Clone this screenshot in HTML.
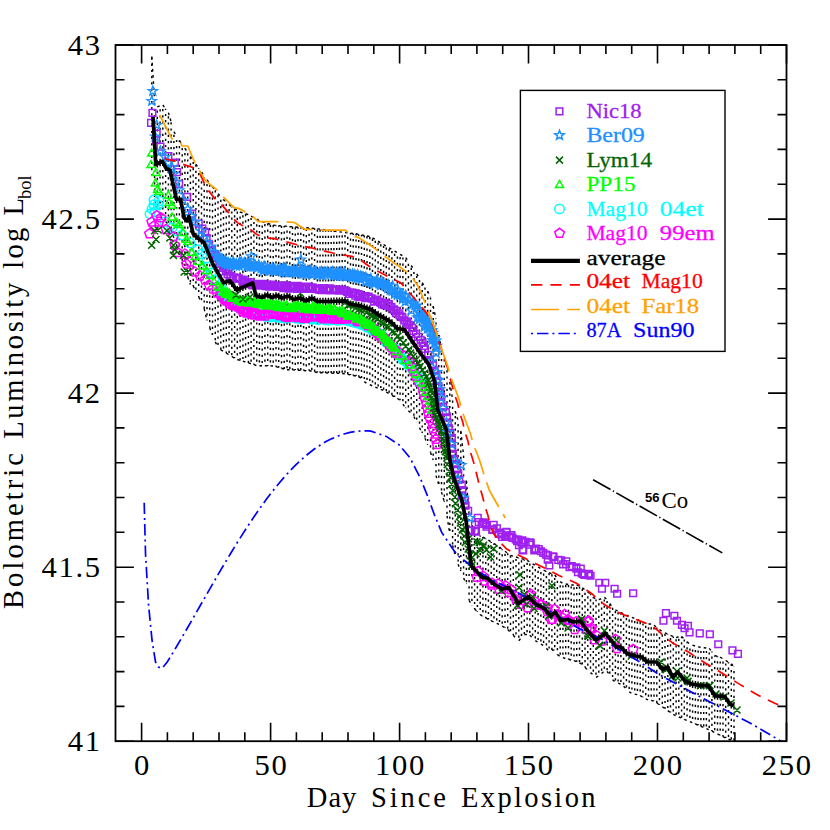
<!DOCTYPE html>
<html><head><meta charset="utf-8"><title>Bolometric Luminosity</title>
<style>html,body{margin:0;padding:0;background:#fff;}svg{display:block;}</style>
</head><body>
<svg width="830" height="830" viewBox="0 0 830 830">
<rect width="830" height="830" fill="#fff"/>
<defs><clipPath id="c"><rect x="115.5" y="45.0" width="671.0" height="696.2"/></clipPath></defs>
<g clip-path="url(#c)">
<path d="M151.8 117.0V56.5M151.8 117.0V175.0M154.6 143.6V100.2M154.6 143.6V200.2M157.3 163.9V106.9M157.3 163.9V208.2M160.1 162.5V105.6M160.1 162.5V216.1M162.8 162.3V105.0M162.8 162.3V218.8M165.6 167.2V108.8M165.6 167.2V221.6M168.4 169.5V112.6M168.4 169.5V224.4M171.1 175.5V121.8M171.1 175.5V229.5M173.9 188.0V131.6M173.9 188.0V238.0M176.6 199.4V136.0M176.6 199.4V246.6M179.4 199.4V140.5M179.4 199.4V255.1M182.2 207.5V144.6M182.2 207.5V262.6M184.9 218.8V148.4M184.9 218.8V269.9M187.7 218.9V152.3M187.7 218.9V277.1M190.4 222.7V156.3M190.4 222.7V284.4M193.2 233.8V160.4M193.2 233.8V285.9M195.9 236.4V164.3M195.9 236.4V291.4M198.7 238.8V168.2M198.7 238.8V297.0M201.5 240.7V172.1M201.5 240.7V302.5M204.2 243.1V175.9M204.2 243.1V308.7M207.0 249.8V179.8M207.0 249.8V320.6M209.7 256.5V183.4M209.7 256.5V327.7M212.5 263.3V186.8M212.5 263.3V334.8M215.3 268.3V190.2M215.3 268.3V341.9M218.0 273.1V193.6M218.0 273.1V347.4M220.8 277.9V196.8M220.8 277.9V349.7M223.5 282.7V199.4M223.5 282.7V351.6M226.3 281.9V202.1M226.3 281.9V353.2M229.1 281.0V204.7M229.1 281.0V354.8M231.8 283.3V206.8M231.8 283.3V356.5M234.6 287.2V208.6M234.6 287.2V358.3M237.3 289.7V210.3M237.3 289.7V359.5M240.1 288.5V212.0M240.1 288.5V360.4M242.9 287.2V212.9M242.9 287.2V361.2M245.6 286.0V213.7M245.6 286.0V362.1M248.4 284.8V214.8M248.4 284.8V362.9M251.1 283.6V216.2M251.1 283.6V363.8M253.9 287.6V217.7M253.9 287.6V364.7M256.7 296.1V219.2M256.7 296.1V365.6M259.4 296.8V220.7M259.4 296.8V365.7M262.2 297.4V221.7M262.2 297.4V365.8M264.9 296.0V222.5M264.9 296.0V365.8M267.7 295.3V223.4M267.7 295.3V365.9M270.4 296.7V224.3M270.4 296.7V365.9M273.2 297.0V225.1M273.2 297.0V366.0M276.0 295.9V225.4M276.0 295.9V366.7M278.7 296.4V225.6M278.7 296.4V367.5M281.5 297.7V225.9M281.5 297.7V368.3M284.2 297.3V226.1M284.2 297.3V369.1M287.0 296.3V226.3M287.0 296.3V369.7M289.8 297.0V226.6M289.8 297.0V369.8M292.5 298.6V226.8M292.5 298.6V369.9M295.3 299.2V227.0M295.3 299.2V370.1M298.0 298.5V227.2M298.0 298.5V370.2M300.8 298.4V227.4M300.8 298.4V370.4M303.6 299.8V227.6M303.6 299.8V370.5M306.3 300.8V227.8M306.3 300.8V370.7M309.1 299.5V228.0M309.1 299.5V370.8M311.8 298.1V228.2M311.8 298.1V371.0M314.6 299.8V228.4M314.6 299.8V371.8M317.4 301.5V228.7M317.4 301.5V372.6M320.1 301.5V229.1M320.1 301.5V372.7M322.9 301.5V229.5M322.9 301.5V372.8M325.6 301.5V229.9M325.6 301.5V372.9M328.4 301.5V230.3M328.4 301.5V373.0M331.2 301.4V230.7M331.2 301.4V373.1M333.9 301.3V231.1M333.9 301.3V373.2M336.7 301.2V231.5M336.7 301.2V373.3M339.4 301.1V231.9M339.4 301.1V373.4M342.2 300.9V232.2M342.2 300.9V373.5M345.0 300.8V232.5M345.0 300.8V373.7M347.7 302.4V232.8M347.7 302.4V374.3M350.5 304.2V233.1M350.5 304.2V374.9M353.2 304.7V233.4M353.2 304.7V375.5M356.0 305.1V233.8M356.0 305.1V376.1M358.7 305.6V234.4M358.7 305.6V376.7M361.5 306.2V234.9M361.5 306.2V378.6M364.3 307.2V235.5M364.3 307.2V381.6M367.0 308.1V236.0M367.0 308.1V383.5M369.8 309.0V236.5M369.8 309.0V384.7M372.5 310.7V237.9M372.5 310.7V385.9M375.3 312.6V239.5M375.3 312.6V387.1M378.1 314.5V241.2M378.1 314.5V388.2M380.8 316.2V242.9M380.8 316.2V389.4M383.6 317.8V244.5M383.6 317.8V390.6M386.3 319.4V246.2M386.3 319.4V392.1M389.1 320.9V247.8M389.1 320.9V393.7M391.9 323.0V249.5M391.9 323.0V395.3M394.6 325.7V251.1M394.6 325.7V396.9M397.4 328.5V252.7M397.4 328.5V398.5M400.1 329.0V254.3M400.1 329.0V400.2M402.9 329.3V256.0M402.9 329.3V404.2M405.7 331.5V257.6M405.7 331.5V408.2M408.4 335.6V261.4M408.4 335.6V410.9M411.2 339.7V265.5M411.2 339.7V413.1M413.9 343.8V269.7M413.9 343.8V416.5M416.7 347.8V273.9M416.7 347.8V422.3M419.5 351.9V278.2M419.5 351.9V427.9M422.2 355.7V282.6M422.2 355.7V433.0M425.0 359.4V286.9M425.0 359.4V438.2M427.7 363.0V291.2M427.7 363.0V444.8M430.5 369.3V297.0M430.5 369.3V452.6M433.2 377.6V306.2M433.2 377.6V459.9M436.0 394.3V319.0M436.0 394.3V475.6M438.8 412.1V335.0M438.8 412.1V484.8M441.5 418.5V348.4M441.5 418.5V492.1M444.3 424.9V357.6M444.3 424.9V501.8M447.0 435.9V366.8M447.0 435.9V515.9M449.8 459.2V382.1M449.8 459.2V534.2M452.6 472.5V399.2M452.6 472.5V545.4M455.3 481.8V411.2M455.3 481.8V555.9M458.1 489.7V420.7M458.1 489.7V564.2M460.8 497.6V430.9M460.8 497.6V571.1M463.6 509.0V455.7M463.6 509.0V578.0M466.4 522.8V480.5M466.4 522.8V584.0M469.1 547.6V515.0M469.1 547.6V600.3M471.9 566.3V525.3M471.9 566.3V605.2M474.6 569.4V529.4M474.6 569.4V608.9M477.4 572.4V533.4M477.4 572.4V611.8M480.2 575.4V535.4M480.2 575.4V614.6M482.9 577.5V537.0M482.9 577.5V616.4M485.7 578.0V538.6M485.7 578.0V617.9M488.4 579.4V540.2M488.4 579.4V619.4M491.2 581.6V541.9M491.2 581.6V620.9M494.0 583.8V543.5M494.0 583.8V622.1M496.7 585.8V545.1M496.7 585.8V623.3M499.5 587.4V547.1M499.5 587.4V624.5M502.2 589.0V549.2M502.2 589.0V626.1M505.0 588.4V551.2M505.0 588.4V627.8M507.7 587.8V553.3M507.7 587.8V629.6M510.5 590.3V555.3M510.5 590.3V632.3M513.3 595.0V556.2M513.3 595.0V635.2M516.0 599.8V557.0M516.0 599.8V638.4M518.8 603.1V557.9M518.8 603.1V640.8M521.5 601.2V558.7M521.5 601.2V637.6M524.3 599.4V559.5M524.3 599.4V634.5M527.1 597.5V560.4M527.1 597.5V634.5M529.8 598.2V562.0M529.8 598.2V635.3M532.6 601.0V563.8M532.6 601.0V638.0M535.3 603.7V565.4M535.3 603.7V640.6M538.1 605.4V567.0M538.1 605.4V642.4M540.9 606.8V568.6M540.9 606.8V644.2M543.6 608.2V570.2M543.6 608.2V645.6M546.4 610.8V571.5M546.4 610.8V648.3M549.1 613.9V572.6M549.1 613.9V651.6M551.9 615.2V573.7M551.9 615.2V650.2M554.7 612.6V575.0M554.7 612.6V649.9M557.4 615.5V578.4M557.4 615.5V654.7M560.2 620.0V581.7M560.2 620.0V656.5M562.9 620.1V583.4M562.9 620.1V657.6M565.7 619.8V584.0M565.7 619.8V658.6M568.5 619.7V584.6M568.5 619.7V659.3M571.2 621.1V585.0M571.2 621.1V660.0M574.0 621.9V585.0M574.0 621.9V660.7M576.7 621.6V585.0M576.7 621.6V661.8M579.5 621.3V586.0M579.5 621.3V662.8M582.3 623.6V587.9M582.3 623.6V664.6M585.0 627.5V589.8M585.0 627.5V667.3M587.8 631.0V591.9M587.8 631.0V670.1M590.5 634.0V594.2M590.5 634.0V672.6M593.3 637.0V596.9M593.3 637.0V675.0M596.0 640.0V599.6M596.0 640.0V677.4M598.8 638.0V599.7M598.8 638.0V675.9M601.6 636.1V598.6M601.6 636.1V673.6M604.3 634.1V597.4M604.3 634.1V671.1M607.1 635.6V599.5M607.1 635.6V671.3M609.8 639.0V603.5M609.8 639.0V675.5M612.6 642.4V607.4M612.6 642.4V679.7M615.4 645.7V609.8M615.4 645.7V682.1M618.1 646.9V611.2M618.1 646.9V683.2M620.9 647.3V612.5M620.9 647.3V684.3M623.6 650.0V613.9M623.6 650.0V686.2M626.4 652.8V615.1M626.4 652.8V689.0M629.2 654.2V616.2M629.2 654.2V691.8M631.9 654.9V617.4M631.9 654.9V693.5M634.7 655.7V618.6M634.7 655.7V694.1M637.4 656.3V619.7M637.4 656.3V694.7M640.2 656.8V620.9M640.2 656.8V695.7M643.0 658.1V622.1M643.0 658.1V697.3M645.7 660.5V623.2M645.7 660.5V698.9M648.5 662.0V624.0M648.5 662.0V700.1M651.2 662.0V624.0M651.2 662.0V700.3M654.0 662.0V625.2M654.0 662.0V701.1M656.8 662.1V627.4M656.8 662.1V703.0M659.5 665.6V629.6M659.5 665.6V704.9M662.3 669.2V631.4M662.3 669.2V706.8M665.0 668.4V632.8M665.0 668.4V708.7M667.8 667.2V634.2M667.8 667.2V710.6M670.5 672.7V635.4M670.5 672.7V712.5M673.3 676.7V636.5M673.3 676.7V714.4M676.1 673.9V637.6M676.1 673.9V715.8M678.8 673.5V636.7M678.8 673.5V717.0M681.6 676.9V636.4M681.6 676.9V718.1M684.3 680.3V639.1M684.3 680.3V719.3M687.1 681.9V641.8M687.1 681.9V720.5M689.9 683.3V644.4M689.9 683.3V721.7M692.6 684.2V645.2M692.6 684.2V722.8M695.4 684.7V646.1M695.4 684.7V724.0M698.1 685.2V646.9M698.1 685.2V725.2M700.9 685.6V647.3M700.9 685.6V726.4M703.7 685.6V647.7M703.7 685.6V727.5M706.4 685.6V648.0M706.4 685.6V728.7M709.2 687.1V648.4M709.2 687.1V729.9M711.9 691.3V651.5M711.9 691.3V731.1M714.7 695.5V655.6M714.7 695.5V732.5M717.5 696.0V656.3M717.5 696.0V733.9M720.2 696.1V657.2M720.2 696.1V735.3M723.0 696.3V658.8M723.0 696.3V736.7M725.7 698.1V660.5M725.7 698.1V738.1M728.5 702.2V662.2M728.5 702.2V739.2M731.3 704.8V663.8M731.3 704.8V739.9M734.0 705.7V666.7M734.0 705.7V740.7" stroke="#000" stroke-width="1.45" stroke-dasharray="2.2 4" stroke-dashoffset="-1.5" fill="none"/>
<path d="M151.8 56.5L154.6 100.2M154.6 200.2L157.3 208.2M157.3 106.9L160.1 105.6M160.1 216.1L162.8 218.8M162.8 105.0L165.6 108.8M165.6 221.6L168.4 224.4M168.4 112.6L171.1 121.8M171.1 229.5L173.9 238.0M173.9 131.6L176.6 136.0M176.6 246.6L179.4 255.1M179.4 140.5L182.2 144.6M182.2 262.6L184.9 269.9M184.9 148.4L187.7 152.3M187.7 277.1L190.4 284.4M190.4 156.3L193.2 160.4M193.2 285.9L195.9 291.4M195.9 164.3L198.7 168.2M198.7 297.0L201.5 302.5M201.5 172.1L204.2 175.9M204.2 308.7L207.0 320.6M207.0 179.8L209.7 183.4M209.7 327.7L212.5 334.8M212.5 186.8L215.3 190.2M215.3 341.9L218.0 347.4M218.0 193.6L220.8 196.8M220.8 349.7L223.5 351.6M223.5 199.4L226.3 202.1M226.3 353.2L229.1 354.8M229.1 204.7L231.8 206.8M231.8 356.5L234.6 358.3M234.6 208.6L237.3 210.3M237.3 359.5L240.1 360.4M240.1 212.0L242.9 212.9M242.9 361.2L245.6 362.1M245.6 213.7L248.4 214.8M248.4 362.9L251.1 363.8M251.1 216.2L253.9 217.7M253.9 364.7L256.7 365.6M256.7 219.2L259.4 220.7M259.4 365.7L262.2 365.8M262.2 221.7L264.9 222.5M264.9 365.8L267.7 365.9M267.7 223.4L270.4 224.3M270.4 365.9L273.2 366.0M273.2 225.1L276.0 225.4M276.0 366.7L278.7 367.5M278.7 225.6L281.5 225.9M281.5 368.3L284.2 369.1M284.2 226.1L287.0 226.3M287.0 369.7L289.8 369.8M289.8 226.6L292.5 226.8M292.5 369.9L295.3 370.1M295.3 227.0L298.0 227.2M298.0 370.2L300.8 370.4M300.8 227.4L303.6 227.6M303.6 370.5L306.3 370.7M306.3 227.8L309.1 228.0M309.1 370.8L311.8 371.0M311.8 228.2L314.6 228.4M314.6 371.8L317.4 372.6M317.4 228.7L320.1 229.1M320.1 372.7L322.9 372.8M322.9 229.5L325.6 229.9M325.6 372.9L328.4 373.0M328.4 230.3L331.2 230.7M331.2 373.1L333.9 373.2M333.9 231.1L336.7 231.5M336.7 373.3L339.4 373.4M339.4 231.9L342.2 232.2M342.2 373.5L345.0 373.7M345.0 232.5L347.7 232.8M347.7 374.3L350.5 374.9M350.5 233.1L353.2 233.4M353.2 375.5L356.0 376.1M356.0 233.8L358.7 234.4M358.7 376.7L361.5 378.6M361.5 234.9L364.3 235.5M364.3 381.6L367.0 383.5M367.0 236.0L369.8 236.5M369.8 384.7L372.5 385.9M372.5 237.9L375.3 239.5M375.3 387.1L378.1 388.2M378.1 241.2L380.8 242.9M380.8 389.4L383.6 390.6M383.6 244.5L386.3 246.2M386.3 392.1L389.1 393.7M389.1 247.8L391.9 249.5M391.9 395.3L394.6 396.9M394.6 251.1L397.4 252.7M397.4 398.5L400.1 400.2M400.1 254.3L402.9 256.0M402.9 404.2L405.7 408.2M405.7 257.6L408.4 261.4M408.4 410.9L411.2 413.1M411.2 265.5L413.9 269.7M413.9 416.5L416.7 422.3M416.7 273.9L419.5 278.2M419.5 427.9L422.2 433.0M422.2 282.6L425.0 286.9M425.0 438.2L427.7 444.8M427.7 291.2L430.5 297.0M430.5 452.6L433.2 459.9M433.2 306.2L436.0 319.0M436.0 475.6L438.8 484.8M438.8 335.0L441.5 348.4M441.5 492.1L444.3 501.8M444.3 357.6L447.0 366.8M447.0 515.9L449.8 534.2M449.8 382.1L452.6 399.2M452.6 545.4L455.3 555.9M455.3 411.2L458.1 420.7M458.1 564.2L460.8 571.1M460.8 430.9L463.6 455.7M463.6 578.0L466.4 584.0M466.4 480.5L469.1 515.0M469.1 600.3L471.9 605.2M471.9 525.3L474.6 529.4M474.6 608.9L477.4 611.8M477.4 533.4L480.2 535.4M480.2 614.6L482.9 616.4M482.9 537.0L485.7 538.6M485.7 617.9L488.4 619.4M488.4 540.2L491.2 541.9M491.2 620.9L494.0 622.1M494.0 543.5L496.7 545.1M496.7 623.3L499.5 624.5M499.5 547.1L502.2 549.2M502.2 626.1L505.0 627.8M505.0 551.2L507.7 553.3M507.7 629.6L510.5 632.3M510.5 555.3L513.3 556.2M513.3 635.2L516.0 638.4M516.0 557.0L518.8 557.9M518.8 640.8L521.5 637.6M521.5 558.7L524.3 559.5M524.3 634.5L527.1 634.5M527.1 560.4L529.8 562.0M529.8 635.3L532.6 638.0M532.6 563.8L535.3 565.4M535.3 640.6L538.1 642.4M538.1 567.0L540.9 568.6M540.9 644.2L543.6 645.6M543.6 570.2L546.4 571.5M546.4 648.3L549.1 651.6M549.1 572.6L551.9 573.7M551.9 650.2L554.7 649.9M554.7 575.0L557.4 578.4M557.4 654.7L560.2 656.5M560.2 581.7L562.9 583.4M562.9 657.6L565.7 658.6M565.7 584.0L568.5 584.6M568.5 659.3L571.2 660.0M571.2 585.0L574.0 585.0M574.0 660.7L576.7 661.8M576.7 585.0L579.5 586.0M579.5 662.8L582.3 664.6M582.3 587.9L585.0 589.8M585.0 667.3L587.8 670.1M587.8 591.9L590.5 594.2M590.5 672.6L593.3 675.0M593.3 596.9L596.0 599.6M596.0 677.4L598.8 675.9M598.8 599.7L601.6 598.6M601.6 673.6L604.3 671.1M604.3 597.4L607.1 599.5M607.1 671.3L609.8 675.5M609.8 603.5L612.6 607.4M612.6 679.7L615.4 682.1M615.4 609.8L618.1 611.2M618.1 683.2L620.9 684.3M620.9 612.5L623.6 613.9M623.6 686.2L626.4 689.0M626.4 615.1L629.2 616.2M629.2 691.8L631.9 693.5M631.9 617.4L634.7 618.6M634.7 694.1L637.4 694.7M637.4 619.7L640.2 620.9M640.2 695.7L643.0 697.3M643.0 622.1L645.7 623.2M645.7 698.9L648.5 700.1M648.5 624.0L651.2 624.0M651.2 700.3L654.0 701.1M654.0 625.2L656.8 627.4M656.8 703.0L659.5 704.9M659.5 629.6L662.3 631.4M662.3 706.8L665.0 708.7M665.0 632.8L667.8 634.2M667.8 710.6L670.5 712.5M670.5 635.4L673.3 636.5M673.3 714.4L676.1 715.8M676.1 637.6L678.8 636.7M678.8 717.0L681.6 718.1M681.6 636.4L684.3 639.1M684.3 719.3L687.1 720.5M687.1 641.8L689.9 644.4M689.9 721.7L692.6 722.8M692.6 645.2L695.4 646.1M695.4 724.0L698.1 725.2M698.1 646.9L700.9 647.3M700.9 726.4L703.7 727.5M703.7 647.7L706.4 648.0M706.4 728.7L709.2 729.9M709.2 648.4L711.9 651.5M711.9 731.1L714.7 732.5M714.7 655.6L717.5 656.3M717.5 733.9L720.2 735.3M720.2 657.2L723.0 658.8M723.0 736.7L725.7 738.1M725.7 660.5L728.5 662.2M728.5 739.2L731.3 739.9M731.3 663.8L734.0 666.7" stroke="#000" stroke-width="1.4" stroke-dasharray="2.6 3.6" fill="none"/>
<path d="M149.2 199.8a4.7 4.7 0 1 0 9.4 0a4.7 4.7 0 1 0 -9.4 0zM154.3 201.0a4.7 4.7 0 1 0 9.4 0a4.7 4.7 0 1 0 -9.4 0zM149.2 204.8a4.7 4.7 0 1 0 9.4 0a4.7 4.7 0 1 0 -9.4 0zM153.3 204.8a4.7 4.7 0 1 0 9.4 0a4.7 4.7 0 1 0 -9.4 0zM145.3 214.0a4.7 4.7 0 1 0 9.4 0a4.7 4.7 0 1 0 -9.4 0zM147.3 209.0a4.7 4.7 0 1 0 9.4 0a4.7 4.7 0 1 0 -9.4 0zM150.3 212.0a4.7 4.7 0 1 0 9.4 0a4.7 4.7 0 1 0 -9.4 0zM160.3 222.0a4.7 4.7 0 1 0 9.4 0a4.7 4.7 0 1 0 -9.4 0zM167.3 228.0a4.7 4.7 0 1 0 9.4 0a4.7 4.7 0 1 0 -9.4 0zM172.3 231.0a4.7 4.7 0 1 0 9.4 0a4.7 4.7 0 1 0 -9.4 0zM177.3 235.0a4.7 4.7 0 1 0 9.4 0a4.7 4.7 0 1 0 -9.4 0zM185.3 243.0a4.7 4.7 0 1 0 9.4 0a4.7 4.7 0 1 0 -9.4 0zM193.3 249.6a4.7 4.7 0 1 0 9.4 0a4.7 4.7 0 1 0 -9.4 0zM197.3 254.0a4.7 4.7 0 1 0 9.4 0a4.7 4.7 0 1 0 -9.4 0zM201.9 258.0a4.7 4.7 0 1 0 9.4 0a4.7 4.7 0 1 0 -9.4 0zM203.3 267.0a4.7 4.7 0 1 0 9.4 0a4.7 4.7 0 1 0 -9.4 0zM206.3 273.0a4.7 4.7 0 1 0 9.4 0a4.7 4.7 0 1 0 -9.4 0zM209.3 280.0a4.7 4.7 0 1 0 9.4 0a4.7 4.7 0 1 0 -9.4 0zM213.3 287.0a4.7 4.7 0 1 0 9.4 0a4.7 4.7 0 1 0 -9.4 0zM216.1 287.2a4.7 4.7 0 1 0 9.4 0a4.7 4.7 0 1 0 -9.4 0zM216.5 287.0a4.7 4.7 0 1 0 9.4 0a4.7 4.7 0 1 0 -9.4 0zM219.1 292.5a4.7 4.7 0 1 0 9.4 0a4.7 4.7 0 1 0 -9.4 0zM218.5 292.9a4.7 4.7 0 1 0 9.4 0a4.7 4.7 0 1 0 -9.4 0zM221.3 296.1a4.7 4.7 0 1 0 9.4 0a4.7 4.7 0 1 0 -9.4 0zM221.3 295.2a4.7 4.7 0 1 0 9.4 0a4.7 4.7 0 1 0 -9.4 0zM224.5 299.6a4.7 4.7 0 1 0 9.4 0a4.7 4.7 0 1 0 -9.4 0zM224.1 297.9a4.7 4.7 0 1 0 9.4 0a4.7 4.7 0 1 0 -9.4 0zM227.5 302.4a4.7 4.7 0 1 0 9.4 0a4.7 4.7 0 1 0 -9.4 0zM227.4 300.8a4.7 4.7 0 1 0 9.4 0a4.7 4.7 0 1 0 -9.4 0zM230.7 302.2a4.7 4.7 0 1 0 9.4 0a4.7 4.7 0 1 0 -9.4 0zM230.5 302.9a4.7 4.7 0 1 0 9.4 0a4.7 4.7 0 1 0 -9.4 0zM232.4 304.8a4.7 4.7 0 1 0 9.4 0a4.7 4.7 0 1 0 -9.4 0zM232.6 306.8a4.7 4.7 0 1 0 9.4 0a4.7 4.7 0 1 0 -9.4 0zM235.2 308.4a4.7 4.7 0 1 0 9.4 0a4.7 4.7 0 1 0 -9.4 0zM235.8 307.8a4.7 4.7 0 1 0 9.4 0a4.7 4.7 0 1 0 -9.4 0zM238.4 308.0a4.7 4.7 0 1 0 9.4 0a4.7 4.7 0 1 0 -9.4 0zM237.8 308.4a4.7 4.7 0 1 0 9.4 0a4.7 4.7 0 1 0 -9.4 0zM241.4 310.1a4.7 4.7 0 1 0 9.4 0a4.7 4.7 0 1 0 -9.4 0zM240.9 310.6a4.7 4.7 0 1 0 9.4 0a4.7 4.7 0 1 0 -9.4 0zM243.8 310.9a4.7 4.7 0 1 0 9.4 0a4.7 4.7 0 1 0 -9.4 0zM244.2 312.0a4.7 4.7 0 1 0 9.4 0a4.7 4.7 0 1 0 -9.4 0zM246.3 312.7a4.7 4.7 0 1 0 9.4 0a4.7 4.7 0 1 0 -9.4 0zM246.7 313.6a4.7 4.7 0 1 0 9.4 0a4.7 4.7 0 1 0 -9.4 0zM249.7 313.1a4.7 4.7 0 1 0 9.4 0a4.7 4.7 0 1 0 -9.4 0zM250.0 312.6a4.7 4.7 0 1 0 9.4 0a4.7 4.7 0 1 0 -9.4 0zM252.1 314.9a4.7 4.7 0 1 0 9.4 0a4.7 4.7 0 1 0 -9.4 0zM251.8 314.2a4.7 4.7 0 1 0 9.4 0a4.7 4.7 0 1 0 -9.4 0zM254.4 315.0a4.7 4.7 0 1 0 9.4 0a4.7 4.7 0 1 0 -9.4 0zM255.2 314.8a4.7 4.7 0 1 0 9.4 0a4.7 4.7 0 1 0 -9.4 0zM258.1 314.4a4.7 4.7 0 1 0 9.4 0a4.7 4.7 0 1 0 -9.4 0zM257.9 315.2a4.7 4.7 0 1 0 9.4 0a4.7 4.7 0 1 0 -9.4 0zM260.5 315.1a4.7 4.7 0 1 0 9.4 0a4.7 4.7 0 1 0 -9.4 0zM260.9 316.5a4.7 4.7 0 1 0 9.4 0a4.7 4.7 0 1 0 -9.4 0zM263.2 316.0a4.7 4.7 0 1 0 9.4 0a4.7 4.7 0 1 0 -9.4 0zM262.7 316.1a4.7 4.7 0 1 0 9.4 0a4.7 4.7 0 1 0 -9.4 0zM266.1 317.1a4.7 4.7 0 1 0 9.4 0a4.7 4.7 0 1 0 -9.4 0zM266.4 315.1a4.7 4.7 0 1 0 9.4 0a4.7 4.7 0 1 0 -9.4 0zM268.6 316.4a4.7 4.7 0 1 0 9.4 0a4.7 4.7 0 1 0 -9.4 0zM268.2 315.8a4.7 4.7 0 1 0 9.4 0a4.7 4.7 0 1 0 -9.4 0zM271.1 315.1a4.7 4.7 0 1 0 9.4 0a4.7 4.7 0 1 0 -9.4 0zM271.0 316.9a4.7 4.7 0 1 0 9.4 0a4.7 4.7 0 1 0 -9.4 0zM273.8 315.7a4.7 4.7 0 1 0 9.4 0a4.7 4.7 0 1 0 -9.4 0zM274.1 317.4a4.7 4.7 0 1 0 9.4 0a4.7 4.7 0 1 0 -9.4 0zM276.5 316.5a4.7 4.7 0 1 0 9.4 0a4.7 4.7 0 1 0 -9.4 0zM277.1 317.7a4.7 4.7 0 1 0 9.4 0a4.7 4.7 0 1 0 -9.4 0zM280.1 317.8a4.7 4.7 0 1 0 9.4 0a4.7 4.7 0 1 0 -9.4 0zM279.5 316.6a4.7 4.7 0 1 0 9.4 0a4.7 4.7 0 1 0 -9.4 0zM282.4 318.1a4.7 4.7 0 1 0 9.4 0a4.7 4.7 0 1 0 -9.4 0zM283.1 316.0a4.7 4.7 0 1 0 9.4 0a4.7 4.7 0 1 0 -9.4 0zM284.9 316.5a4.7 4.7 0 1 0 9.4 0a4.7 4.7 0 1 0 -9.4 0zM285.0 317.2a4.7 4.7 0 1 0 9.4 0a4.7 4.7 0 1 0 -9.4 0zM288.1 316.8a4.7 4.7 0 1 0 9.4 0a4.7 4.7 0 1 0 -9.4 0zM287.4 317.2a4.7 4.7 0 1 0 9.4 0a4.7 4.7 0 1 0 -9.4 0zM290.6 317.8a4.7 4.7 0 1 0 9.4 0a4.7 4.7 0 1 0 -9.4 0zM291.3 318.2a4.7 4.7 0 1 0 9.4 0a4.7 4.7 0 1 0 -9.4 0zM293.6 318.2a4.7 4.7 0 1 0 9.4 0a4.7 4.7 0 1 0 -9.4 0zM293.8 316.6a4.7 4.7 0 1 0 9.4 0a4.7 4.7 0 1 0 -9.4 0zM296.8 318.8a4.7 4.7 0 1 0 9.4 0a4.7 4.7 0 1 0 -9.4 0zM296.8 318.9a4.7 4.7 0 1 0 9.4 0a4.7 4.7 0 1 0 -9.4 0zM298.9 317.8a4.7 4.7 0 1 0 9.4 0a4.7 4.7 0 1 0 -9.4 0zM298.6 318.5a4.7 4.7 0 1 0 9.4 0a4.7 4.7 0 1 0 -9.4 0zM301.3 317.0a4.7 4.7 0 1 0 9.4 0a4.7 4.7 0 1 0 -9.4 0zM301.5 317.2a4.7 4.7 0 1 0 9.4 0a4.7 4.7 0 1 0 -9.4 0zM304.4 317.0a4.7 4.7 0 1 0 9.4 0a4.7 4.7 0 1 0 -9.4 0zM304.0 317.3a4.7 4.7 0 1 0 9.4 0a4.7 4.7 0 1 0 -9.4 0zM306.9 318.0a4.7 4.7 0 1 0 9.4 0a4.7 4.7 0 1 0 -9.4 0zM306.8 319.4a4.7 4.7 0 1 0 9.4 0a4.7 4.7 0 1 0 -9.4 0zM310.3 317.4a4.7 4.7 0 1 0 9.4 0a4.7 4.7 0 1 0 -9.4 0zM309.8 318.0a4.7 4.7 0 1 0 9.4 0a4.7 4.7 0 1 0 -9.4 0zM312.7 317.4a4.7 4.7 0 1 0 9.4 0a4.7 4.7 0 1 0 -9.4 0zM313.3 319.9a4.7 4.7 0 1 0 9.4 0a4.7 4.7 0 1 0 -9.4 0zM315.6 318.5a4.7 4.7 0 1 0 9.4 0a4.7 4.7 0 1 0 -9.4 0zM315.1 317.5a4.7 4.7 0 1 0 9.4 0a4.7 4.7 0 1 0 -9.4 0zM318.2 318.0a4.7 4.7 0 1 0 9.4 0a4.7 4.7 0 1 0 -9.4 0zM318.8 317.7a4.7 4.7 0 1 0 9.4 0a4.7 4.7 0 1 0 -9.4 0zM320.6 320.0a4.7 4.7 0 1 0 9.4 0a4.7 4.7 0 1 0 -9.4 0zM321.2 317.7a4.7 4.7 0 1 0 9.4 0a4.7 4.7 0 1 0 -9.4 0zM324.0 317.5a4.7 4.7 0 1 0 9.4 0a4.7 4.7 0 1 0 -9.4 0zM323.9 320.2a4.7 4.7 0 1 0 9.4 0a4.7 4.7 0 1 0 -9.4 0zM327.1 319.4a4.7 4.7 0 1 0 9.4 0a4.7 4.7 0 1 0 -9.4 0zM326.4 318.5a4.7 4.7 0 1 0 9.4 0a4.7 4.7 0 1 0 -9.4 0zM329.0 319.7a4.7 4.7 0 1 0 9.4 0a4.7 4.7 0 1 0 -9.4 0zM329.5 319.8a4.7 4.7 0 1 0 9.4 0a4.7 4.7 0 1 0 -9.4 0zM332.0 318.3a4.7 4.7 0 1 0 9.4 0a4.7 4.7 0 1 0 -9.4 0zM332.6 320.4a4.7 4.7 0 1 0 9.4 0a4.7 4.7 0 1 0 -9.4 0zM335.4 320.0a4.7 4.7 0 1 0 9.4 0a4.7 4.7 0 1 0 -9.4 0zM335.3 319.8a4.7 4.7 0 1 0 9.4 0a4.7 4.7 0 1 0 -9.4 0zM337.4 319.3a4.7 4.7 0 1 0 9.4 0a4.7 4.7 0 1 0 -9.4 0zM337.5 318.0a4.7 4.7 0 1 0 9.4 0a4.7 4.7 0 1 0 -9.4 0zM339.9 318.8a4.7 4.7 0 1 0 9.4 0a4.7 4.7 0 1 0 -9.4 0zM340.2 319.9a4.7 4.7 0 1 0 9.4 0a4.7 4.7 0 1 0 -9.4 0zM343.8 319.3a4.7 4.7 0 1 0 9.4 0a4.7 4.7 0 1 0 -9.4 0zM343.8 320.8a4.7 4.7 0 1 0 9.4 0a4.7 4.7 0 1 0 -9.4 0zM346.5 319.8a4.7 4.7 0 1 0 9.4 0a4.7 4.7 0 1 0 -9.4 0zM345.7 319.4a4.7 4.7 0 1 0 9.4 0a4.7 4.7 0 1 0 -9.4 0zM348.4 320.2a4.7 4.7 0 1 0 9.4 0a4.7 4.7 0 1 0 -9.4 0zM348.9 322.2a4.7 4.7 0 1 0 9.4 0a4.7 4.7 0 1 0 -9.4 0zM351.9 321.9a4.7 4.7 0 1 0 9.4 0a4.7 4.7 0 1 0 -9.4 0zM351.7 322.8a4.7 4.7 0 1 0 9.4 0a4.7 4.7 0 1 0 -9.4 0zM353.8 323.3a4.7 4.7 0 1 0 9.4 0a4.7 4.7 0 1 0 -9.4 0zM354.8 323.7a4.7 4.7 0 1 0 9.4 0a4.7 4.7 0 1 0 -9.4 0zM357.3 323.7a4.7 4.7 0 1 0 9.4 0a4.7 4.7 0 1 0 -9.4 0zM356.6 324.6a4.7 4.7 0 1 0 9.4 0a4.7 4.7 0 1 0 -9.4 0zM359.6 325.5a4.7 4.7 0 1 0 9.4 0a4.7 4.7 0 1 0 -9.4 0zM360.3 324.4a4.7 4.7 0 1 0 9.4 0a4.7 4.7 0 1 0 -9.4 0zM362.4 327.3a4.7 4.7 0 1 0 9.4 0a4.7 4.7 0 1 0 -9.4 0zM362.8 325.2a4.7 4.7 0 1 0 9.4 0a4.7 4.7 0 1 0 -9.4 0zM364.9 326.8a4.7 4.7 0 1 0 9.4 0a4.7 4.7 0 1 0 -9.4 0zM365.8 328.7a4.7 4.7 0 1 0 9.4 0a4.7 4.7 0 1 0 -9.4 0zM367.6 330.4a4.7 4.7 0 1 0 9.4 0a4.7 4.7 0 1 0 -9.4 0zM368.6 329.9a4.7 4.7 0 1 0 9.4 0a4.7 4.7 0 1 0 -9.4 0zM370.6 331.4a4.7 4.7 0 1 0 9.4 0a4.7 4.7 0 1 0 -9.4 0zM370.4 329.9a4.7 4.7 0 1 0 9.4 0a4.7 4.7 0 1 0 -9.4 0zM374.1 333.4a4.7 4.7 0 1 0 9.4 0a4.7 4.7 0 1 0 -9.4 0zM373.6 334.1a4.7 4.7 0 1 0 9.4 0a4.7 4.7 0 1 0 -9.4 0zM376.3 336.1a4.7 4.7 0 1 0 9.4 0a4.7 4.7 0 1 0 -9.4 0zM376.7 334.3a4.7 4.7 0 1 0 9.4 0a4.7 4.7 0 1 0 -9.4 0zM378.8 337.5a4.7 4.7 0 1 0 9.4 0a4.7 4.7 0 1 0 -9.4 0zM378.8 338.3a4.7 4.7 0 1 0 9.4 0a4.7 4.7 0 1 0 -9.4 0zM381.6 340.8a4.7 4.7 0 1 0 9.4 0a4.7 4.7 0 1 0 -9.4 0zM381.4 342.1a4.7 4.7 0 1 0 9.4 0a4.7 4.7 0 1 0 -9.4 0zM384.4 343.8a4.7 4.7 0 1 0 9.4 0a4.7 4.7 0 1 0 -9.4 0zM384.7 345.1a4.7 4.7 0 1 0 9.4 0a4.7 4.7 0 1 0 -9.4 0zM387.3 348.1a4.7 4.7 0 1 0 9.4 0a4.7 4.7 0 1 0 -9.4 0zM387.4 347.0a4.7 4.7 0 1 0 9.4 0a4.7 4.7 0 1 0 -9.4 0zM390.2 348.5a4.7 4.7 0 1 0 9.4 0a4.7 4.7 0 1 0 -9.4 0zM390.1 348.9a4.7 4.7 0 1 0 9.4 0a4.7 4.7 0 1 0 -9.4 0zM392.3 353.7a4.7 4.7 0 1 0 9.4 0a4.7 4.7 0 1 0 -9.4 0zM392.5 352.8a4.7 4.7 0 1 0 9.4 0a4.7 4.7 0 1 0 -9.4 0zM395.9 356.0a4.7 4.7 0 1 0 9.4 0a4.7 4.7 0 1 0 -9.4 0zM395.4 355.9a4.7 4.7 0 1 0 9.4 0a4.7 4.7 0 1 0 -9.4 0zM398.5 359.7a4.7 4.7 0 1 0 9.4 0a4.7 4.7 0 1 0 -9.4 0zM397.9 359.1a4.7 4.7 0 1 0 9.4 0a4.7 4.7 0 1 0 -9.4 0zM400.9 361.2a4.7 4.7 0 1 0 9.4 0a4.7 4.7 0 1 0 -9.4 0zM401.5 361.9a4.7 4.7 0 1 0 9.4 0a4.7 4.7 0 1 0 -9.4 0zM404.0 365.4a4.7 4.7 0 1 0 9.4 0a4.7 4.7 0 1 0 -9.4 0zM404.4 364.5a4.7 4.7 0 1 0 9.4 0a4.7 4.7 0 1 0 -9.4 0zM406.8 367.4a4.7 4.7 0 1 0 9.4 0a4.7 4.7 0 1 0 -9.4 0zM406.7 367.9a4.7 4.7 0 1 0 9.4 0a4.7 4.7 0 1 0 -9.4 0zM409.4 370.4a4.7 4.7 0 1 0 9.4 0a4.7 4.7 0 1 0 -9.4 0zM409.4 371.5a4.7 4.7 0 1 0 9.4 0a4.7 4.7 0 1 0 -9.4 0zM412.4 376.9a4.7 4.7 0 1 0 9.4 0a4.7 4.7 0 1 0 -9.4 0zM412.7 375.1a4.7 4.7 0 1 0 9.4 0a4.7 4.7 0 1 0 -9.4 0zM415.0 382.6a4.7 4.7 0 1 0 9.4 0a4.7 4.7 0 1 0 -9.4 0zM415.4 380.3a4.7 4.7 0 1 0 9.4 0a4.7 4.7 0 1 0 -9.4 0z" stroke="#00ffff" stroke-width="1.5" fill="none" stroke-linejoin="miter"/>
<path d="M156.7 210.7L161.5 214.2L159.6 219.7L153.8 219.7L151.9 214.2zM161.0 212.8L165.8 216.3L163.9 221.8L158.1 221.8L156.2 216.3zM151.7 217.0L156.5 220.5L154.6 226.0L148.8 226.0L146.9 220.5zM159.0 217.0L163.8 220.5L161.9 226.0L156.1 226.0L154.2 220.5zM149.5 228.7L154.3 232.2L152.4 237.7L146.6 237.7L144.7 232.2zM154.0 221.0L158.8 224.5L156.9 230.0L151.1 230.0L149.2 224.5zM166.0 224.4L170.8 227.9L168.9 233.4L163.1 233.4L161.2 227.9zM173.4 231.6L178.2 235.1L176.3 240.6L170.5 240.6L168.6 235.1zM174.8 240.3L179.6 243.8L177.7 249.3L171.9 249.3L170.0 243.8zM177.7 247.5L182.5 251.0L180.6 256.5L174.8 256.5L172.9 251.0zM185.0 249.0L189.8 252.5L187.9 258.0L182.1 258.0L180.2 252.5zM186.4 259.0L191.2 262.5L189.3 268.0L183.5 268.0L181.6 262.5zM190.0 257.0L194.8 260.5L192.9 266.0L187.1 266.0L185.2 260.5zM195.0 267.0L199.8 270.5L197.9 276.0L192.1 276.0L190.2 270.5zM200.0 271.0L204.8 274.5L202.9 280.0L197.1 280.0L195.2 274.5zM205.0 275.0L209.8 278.5L207.9 284.0L202.1 284.0L200.2 278.5zM209.0 280.0L213.8 283.5L211.9 289.0L206.1 289.0L204.2 283.5zM213.0 284.0L217.8 287.5L215.9 293.0L210.1 293.0L208.2 287.5zM217.0 288.0L221.8 291.5L219.9 297.0L214.1 297.0L212.2 291.5zM220.5 290.2L225.3 293.7L223.5 299.2L217.6 299.2L215.8 293.7zM220.5 289.5L225.2 293.0L223.4 298.6L217.5 298.6L215.7 293.0zM223.2 293.5L228.0 296.9L226.2 302.5L220.3 302.5L218.5 296.9zM224.1 294.2L228.9 297.7L227.0 303.3L221.2 303.3L219.3 297.7zM226.1 295.9L230.9 299.3L229.0 304.9L223.2 304.9L221.3 299.3zM226.7 293.9L231.5 297.4L229.6 303.0L223.8 303.0L222.0 297.4zM229.7 298.8L234.5 302.3L232.7 307.8L226.8 307.8L225.0 302.3zM228.9 298.7L233.7 302.2L231.9 307.8L226.0 307.8L224.2 302.2zM231.9 299.2L236.7 302.7L234.9 308.3L229.0 308.3L227.2 302.7zM232.6 300.4L237.4 303.9L235.6 309.5L229.7 309.5L227.9 303.9zM234.4 300.7L239.1 304.1L237.3 309.7L231.5 309.7L229.6 304.1zM234.8 300.4L239.6 303.8L237.8 309.4L231.9 309.4L230.1 303.8zM237.2 301.7L241.9 305.1L240.1 310.7L234.3 310.7L232.4 305.1zM237.8 300.6L242.6 304.1L240.8 309.7L234.9 309.7L233.1 304.1zM240.4 303.5L245.1 306.9L243.3 312.5L237.4 312.5L235.6 306.9zM239.7 303.1L244.5 306.5L242.7 312.1L236.8 312.1L235.0 306.5zM243.2 305.1L248.0 308.5L246.2 314.1L240.3 314.1L238.5 308.5zM242.6 306.7L247.3 310.1L245.5 315.7L239.6 315.7L237.8 310.1zM246.2 307.8L250.9 311.3L249.1 316.9L243.2 316.9L241.4 311.3zM245.4 305.4L250.1 308.9L248.3 314.5L242.4 314.5L240.6 308.9zM248.0 307.9L252.8 311.4L251.0 317.0L245.1 317.0L243.3 311.4zM248.3 305.7L253.1 309.2L251.3 314.8L245.4 314.8L243.6 309.2zM251.3 309.1L256.0 312.6L254.2 318.2L248.3 318.2L246.5 312.6zM251.7 306.9L256.5 310.3L254.7 315.9L248.8 315.9L247.0 310.3zM253.7 309.9L258.4 313.3L256.6 318.9L250.8 318.9L248.9 313.3zM254.2 309.1L259.0 312.6L257.1 318.2L251.3 318.2L249.4 312.6zM256.4 307.7L261.1 311.1L259.3 316.7L253.4 316.7L251.6 311.1zM257.1 308.9L261.9 312.4L260.0 318.0L254.2 318.0L252.3 312.4zM259.1 311.0L263.9 314.4L262.1 320.0L256.2 320.0L254.4 314.4zM259.8 310.5L264.5 314.0L262.7 319.6L256.9 319.6L255.0 314.0zM261.9 310.7L266.6 314.2L264.8 319.8L259.0 319.8L257.1 314.2zM261.9 310.7L266.6 314.2L264.8 319.8L258.9 319.8L257.1 314.2zM265.1 309.0L269.8 312.4L268.0 318.0L262.2 318.0L260.3 312.4zM265.2 311.0L270.0 314.4L268.2 320.0L262.3 320.0L260.5 314.4zM267.6 308.3L272.4 311.7L270.6 317.3L264.7 317.3L262.9 311.7zM267.9 308.6L272.7 312.1L270.9 317.7L265.0 317.7L263.2 312.1zM270.2 308.5L275.0 312.0L273.1 317.6L267.3 317.6L265.4 312.0zM270.1 308.7L274.9 312.1L273.1 317.7L267.2 317.7L265.4 312.1zM273.2 309.2L278.0 312.7L276.1 318.2L270.3 318.2L268.4 312.7zM273.7 309.2L278.5 312.6L276.7 318.2L270.8 318.2L269.0 312.6zM276.2 308.9L280.9 312.4L279.1 318.0L273.2 318.0L271.4 312.4zM276.0 308.4L280.8 311.9L278.9 317.4L273.1 317.4L271.2 311.9zM278.6 308.6L283.4 312.0L281.6 317.6L275.7 317.6L273.9 312.0zM279.2 310.4L284.0 313.8L282.2 319.4L276.3 319.4L274.5 313.8zM281.3 310.3L286.1 313.7L284.3 319.3L278.4 319.3L276.6 313.7zM282.2 309.0L287.0 312.5L285.2 318.1L279.3 318.1L277.5 312.5zM284.8 310.3L289.6 313.8L287.8 319.4L281.9 319.4L280.1 313.8zM284.5 311.7L289.2 315.1L287.4 320.7L281.5 320.7L279.7 315.1zM287.1 310.7L291.9 314.2L290.0 319.8L284.2 319.8L282.3 314.2zM287.4 312.4L292.2 315.8L290.4 321.4L284.5 321.4L282.7 315.8zM289.8 312.0L294.5 315.5L292.7 321.1L286.9 321.1L285.0 315.5zM290.2 311.3L295.0 314.8L293.2 320.4L287.3 320.4L285.5 314.8zM292.6 310.5L297.4 314.0L295.6 319.6L289.7 319.6L287.9 314.0zM292.2 309.8L297.0 313.2L295.1 318.8L289.3 318.8L287.5 313.2zM295.0 312.0L299.7 315.5L297.9 321.1L292.0 321.1L290.2 315.5zM295.2 310.1L300.0 313.5L298.1 319.1L292.3 319.1L290.5 313.5zM297.8 312.6L302.5 316.0L300.7 321.6L294.8 321.6L293.0 316.0zM298.7 312.0L303.5 315.4L301.6 321.0L295.8 321.0L293.9 315.4zM300.8 310.7L305.5 314.1L303.7 319.7L297.8 319.7L296.0 314.1zM300.8 311.4L305.5 314.9L303.7 320.4L297.8 320.4L296.0 314.9zM303.4 311.5L308.1 314.9L306.3 320.5L300.4 320.5L298.6 314.9zM303.5 313.2L308.3 316.7L306.4 322.3L300.6 322.3L298.7 316.7zM307.1 311.9L311.9 315.4L310.0 320.9L304.2 320.9L302.4 315.4zM306.2 313.3L311.0 316.8L309.2 322.4L303.3 322.4L301.5 316.8zM309.1 311.4L313.8 314.8L312.0 320.4L306.1 320.4L304.3 314.8zM308.7 311.4L313.5 314.9L311.6 320.5L305.8 320.5L303.9 314.9zM312.0 312.0L316.8 315.4L315.0 321.0L309.1 321.0L307.3 315.4zM311.7 312.0L316.5 315.4L314.6 321.0L308.8 321.0L306.9 315.4zM314.2 311.2L319.0 314.7L317.2 320.3L311.3 320.3L309.5 314.7zM314.3 311.7L319.1 315.2L317.3 320.8L311.4 320.8L309.6 315.2zM317.0 310.5L321.8 314.0L320.0 319.6L314.1 319.6L312.3 314.0zM317.3 311.2L322.1 314.7L320.3 320.3L314.4 320.3L312.6 314.7zM320.4 312.4L325.2 315.8L323.4 321.4L317.5 321.4L315.7 315.8zM320.6 312.8L325.4 316.2L323.6 321.8L317.7 321.8L315.9 316.2zM323.4 313.6L328.1 317.1L326.3 322.7L320.4 322.7L318.6 317.1zM323.0 311.8L327.7 315.2L325.9 320.8L320.0 320.8L318.2 315.2zM326.4 311.3L331.2 314.7L329.4 320.3L323.5 320.3L321.7 314.7zM326.1 312.9L330.9 316.4L329.1 322.0L323.2 322.0L321.4 316.4zM328.1 313.7L332.8 317.2L331.0 322.7L325.1 322.7L323.3 317.2zM329.1 313.0L333.8 316.5L332.0 322.0L326.1 322.0L324.3 316.5zM331.7 313.7L336.4 317.2L334.6 322.8L328.7 322.8L326.9 317.2zM330.9 312.7L335.7 316.2L333.9 321.8L328.0 321.8L326.2 316.2zM334.1 313.9L338.9 317.4L337.1 323.0L331.2 323.0L329.4 317.4zM334.5 313.9L339.3 317.3L337.4 322.9L331.6 322.9L329.7 317.3zM337.0 314.2L341.7 317.6L339.9 323.2L334.1 323.2L332.2 317.6zM337.1 313.5L341.9 317.0L340.0 322.5L334.2 322.5L332.4 317.0zM339.3 311.3L344.1 314.8L342.3 320.4L336.4 320.4L334.6 314.8zM339.2 312.4L344.0 315.9L342.1 321.5L336.3 321.5L334.5 315.9zM341.9 314.1L346.7 317.6L344.9 323.2L339.0 323.2L337.2 317.6zM342.5 313.4L347.2 316.9L345.4 322.5L339.5 322.5L337.7 316.9zM345.3 313.7L350.1 317.1L348.3 322.7L342.4 322.7L340.6 317.1zM345.2 311.4L349.9 314.8L348.1 320.4L342.2 320.4L340.4 314.8zM348.3 314.1L353.0 317.5L351.2 323.1L345.3 323.1L343.5 317.5zM347.9 313.3L352.7 316.8L350.9 322.4L345.0 322.4L343.2 316.8zM350.9 311.9L355.6 315.3L353.8 320.9L347.9 320.9L346.1 315.3zM351.0 312.5L355.7 316.0L353.9 321.6L348.0 321.6L346.2 316.0zM352.9 312.7L357.7 316.1L355.9 321.7L350.0 321.7L348.2 316.1zM353.7 312.5L358.5 315.9L356.7 321.5L350.8 321.5L349.0 315.9zM356.5 316.3L361.2 319.8L359.4 325.3L353.6 325.3L351.7 319.8zM356.2 314.3L361.0 317.7L359.1 323.3L353.3 323.3L351.4 317.7zM358.9 316.6L363.7 320.1L361.9 325.7L356.0 325.7L354.2 320.1zM359.3 316.4L364.0 319.8L362.2 325.4L356.3 325.4L354.5 319.8zM361.9 315.9L366.7 319.3L364.8 324.9L359.0 324.9L357.1 319.3zM361.3 316.5L366.1 319.9L364.2 325.5L358.4 325.5L356.5 319.9zM364.8 317.9L369.5 321.4L367.7 327.0L361.8 327.0L360.0 321.4zM364.6 316.9L369.3 320.4L367.5 326.0L361.6 326.0L359.8 320.4zM366.7 319.1L371.5 322.6L369.7 328.2L363.8 328.2L362.0 322.6zM367.4 320.6L372.2 324.0L370.4 329.6L364.5 329.6L362.7 324.0zM370.2 320.5L375.0 324.0L373.2 329.6L367.3 329.6L365.5 324.0zM370.0 321.1L374.8 324.6L373.0 330.1L367.1 330.1L365.3 324.6zM372.7 322.2L377.5 325.6L375.7 331.2L369.8 331.2L368.0 325.6zM373.2 322.5L378.0 325.9L376.2 331.5L370.3 331.5L368.5 325.9zM376.1 327.5L380.8 331.0L379.0 336.5L373.2 336.5L371.3 331.0zM374.9 325.9L379.7 329.3L377.9 334.9L372.0 334.9L370.2 329.3zM378.7 330.1L383.4 333.6L381.6 339.2L375.7 339.2L373.9 333.6zM378.2 327.8L383.0 331.2L381.2 336.8L375.3 336.8L373.5 331.2zM380.7 332.6L385.4 336.0L383.6 341.6L377.8 341.6L375.9 336.0zM380.7 331.4L385.4 334.8L383.6 340.4L377.8 340.4L375.9 334.8zM383.4 333.7L388.1 337.1L386.3 342.7L380.4 342.7L378.6 337.1zM384.3 332.4L389.1 335.8L387.3 341.4L381.4 341.4L379.6 335.8zM386.9 336.2L391.7 339.6L389.9 345.2L384.0 345.2L382.2 339.6zM387.0 336.8L391.8 340.3L390.0 345.9L384.1 345.9L382.3 340.3zM389.0 340.5L393.8 344.0L391.9 349.6L386.1 349.6L384.2 344.0zM389.3 337.5L394.1 341.0L392.2 346.6L386.4 346.6L384.5 341.0zM391.5 342.4L396.2 345.9L394.4 351.5L388.5 351.5L386.7 345.9zM392.0 341.8L396.8 345.2L395.0 350.8L389.1 350.8L387.3 345.2zM394.4 345.2L399.2 348.7L397.3 354.2L391.5 354.2L389.6 348.7zM394.6 346.9L399.4 350.3L397.6 355.9L391.7 355.9L389.9 350.3zM397.0 348.7L401.8 352.1L399.9 357.7L394.1 357.7L392.2 352.1zM398.0 346.5L402.8 350.0L400.9 355.6L395.1 355.6L393.2 350.0zM405.0 351.0L409.7 354.5L407.9 360.0L402.0 360.0L400.2 354.5zM408.9 356.2L413.7 359.7L411.8 365.2L406.0 365.2L404.2 359.7zM411.8 361.4L416.5 364.9L414.7 370.4L408.8 370.4L407.0 364.9zM413.3 366.6L418.1 370.1L416.3 375.6L410.4 375.6L408.6 370.1zM416.0 371.8L420.8 375.3L419.0 380.8L413.1 380.8L411.3 375.3zM418.7 377.0L423.4 380.5L421.6 386.0L415.7 386.0L413.9 380.5zM422.2 382.2L427.0 385.7L425.2 391.2L419.3 391.2L417.5 385.7zM423.3 387.4L428.0 390.9L426.2 396.4L420.3 396.4L418.5 390.9zM424.5 392.6L429.2 396.1L427.4 401.6L421.5 401.6L419.7 396.1zM426.1 397.8L430.9 401.3L429.0 406.8L423.2 406.8L421.3 401.3zM427.3 403.0L432.0 406.5L430.2 412.0L424.4 412.0L422.5 406.5zM428.4 408.2L433.1 411.7L431.3 417.2L425.4 417.2L423.6 411.7zM429.9 413.4L434.6 416.9L432.8 422.4L426.9 422.4L425.1 416.9zM432.4 418.6L437.2 422.1L435.4 427.6L429.5 427.6L427.7 422.1zM433.0 423.8L437.7 427.3L435.9 432.8L430.0 432.8L428.2 427.3zM435.4 429.0L440.2 432.5L438.3 438.0L432.5 438.0L430.6 432.5zM435.6 434.2L440.4 437.7L438.5 443.2L432.7 443.2L430.8 437.7zM436.9 439.4L441.7 442.9L439.9 448.4L434.0 448.4L432.2 442.9zM476.9 572.3L481.7 575.8L479.8 581.3L474.0 581.3L472.1 575.8zM483.6 571.5L488.4 575.0L486.5 580.5L480.7 580.5L478.8 575.0zM492.0 578.2L496.8 581.7L494.9 587.2L489.1 587.2L487.2 581.7zM498.0 579.0L502.8 582.5L500.9 588.0L495.1 588.0L493.2 582.5zM505.5 580.8L510.3 584.3L508.4 589.8L502.6 589.8L500.7 584.3zM508.9 587.5L513.7 591.0L511.8 596.5L506.0 596.5L504.1 591.0zM515.7 594.3L520.5 597.8L518.6 603.3L512.8 603.3L510.9 597.8zM520.7 599.3L525.5 602.8L523.6 608.3L517.8 608.3L515.9 602.8zM530.8 589.2L535.6 592.7L533.7 598.2L527.9 598.2L526.0 592.7zM534.2 596.0L539.0 599.5L537.1 605.0L531.3 605.0L529.4 599.5zM527.5 602.7L532.3 606.2L530.4 611.7L524.6 611.7L522.7 606.2zM541.0 599.3L545.8 602.8L543.9 608.3L538.1 608.3L536.2 602.8zM547.7 602.7L552.5 606.2L550.6 611.7L544.8 611.7L542.9 606.2zM554.5 604.4L559.3 607.9L557.4 613.4L551.6 613.4L549.7 607.9zM551.0 614.5L555.8 618.0L553.9 623.5L548.1 623.5L546.2 618.0zM564.6 609.4L569.4 612.9L567.5 618.4L561.7 618.4L559.8 612.9zM568.0 614.5L572.8 618.0L570.9 623.5L565.1 623.5L563.2 618.0zM574.7 624.6L579.5 628.1L577.6 633.6L571.8 633.6L569.9 628.1zM588.2 617.0L593.0 620.5L591.1 626.0L585.3 626.0L583.4 620.5zM591.6 623.0L596.4 626.5L594.5 632.0L588.7 632.0L586.8 626.5zM588.4 615.7L593.2 619.2L591.3 624.7L585.5 624.7L583.6 619.2zM590.0 624.0L594.8 627.5L592.9 633.0L587.1 633.0L585.2 627.5zM596.9 630.9L601.7 634.4L599.8 639.9L594.0 639.9L592.1 634.4zM602.0 636.0L606.8 639.5L604.9 645.0L599.1 645.0L597.2 639.5zM615.4 634.3L620.2 637.8L618.3 643.3L612.5 643.3L610.6 637.8zM617.1 643.5L621.9 647.0L620.0 652.5L614.2 652.5L612.3 647.0zM633.1 644.4L637.9 647.9L636.0 653.4L630.2 653.4L628.3 647.9zM478.0 566.4L482.8 569.8L481.0 575.4L475.1 575.4L473.3 569.8zM484.7 575.8L489.5 579.3L487.7 584.9L481.8 584.9L480.0 579.3zM491.4 580.0L496.2 583.4L494.3 589.0L488.5 589.0L486.7 583.4zM499.0 584.1L503.8 587.6L502.0 593.2L496.1 593.2L494.3 587.6zM504.1 583.8L508.8 587.3L507.0 592.9L501.1 592.9L499.3 587.3zM511.0 584.7L515.8 588.1L514.0 593.7L508.1 593.7L506.3 588.1zM516.3 591.6L521.0 595.1L519.2 600.7L513.3 600.7L511.5 595.1zM521.3 595.3L526.0 598.8L524.2 604.4L518.3 604.4L516.5 598.8zM529.6 590.9L534.4 594.3L532.6 599.9L526.7 599.9L524.9 594.3zM535.1 599.8L539.8 603.2L538.0 608.8L532.1 608.8L530.3 603.2zM540.7 600.1L545.4 603.6L543.6 609.2L537.7 609.2L535.9 603.6zM547.4 606.5L552.1 610.0L550.3 615.6L544.4 615.6L542.6 610.0zM552.6 614.2L557.4 617.7L555.6 623.2L549.7 623.2L547.9 617.7zM557.2 609.6L561.9 613.1L560.1 618.7L554.2 618.7L552.4 613.1zM562.4 612.8L567.2 616.2L565.3 621.8L559.5 621.8L557.7 616.2zM567.6 615.5L572.3 619.0L570.5 624.6L564.6 624.6L562.8 619.0zM576.2 616.6L580.9 620.1L579.1 625.7L573.2 625.7L571.4 620.1zM581.7 617.3L586.4 620.7L584.6 626.3L578.7 626.3L576.9 620.7zM586.4 624.4L591.2 627.9L589.4 633.5L583.5 633.5L581.7 627.9zM594.4 634.6L599.2 638.1L597.4 643.7L591.5 643.7L589.7 638.1z" stroke="#ff00ff" stroke-width="1.5" fill="none" stroke-linejoin="miter"/>
<path d="M151.7 149.0L155.7 156.0L147.7 156.0zM151.0 160.5L155.0 167.5L147.0 167.5zM156.0 168.5L160.0 175.5L152.0 175.5zM155.3 178.9L159.3 185.9L151.3 185.9zM157.5 185.5L161.5 192.5L153.5 192.5zM159.0 187.5L163.0 194.5L155.0 194.5zM168.3 191.2L172.3 198.2L164.3 198.2zM169.0 198.5L173.0 205.5L165.0 205.5zM172.0 201.3L176.0 208.3L168.0 208.3zM172.0 212.9L176.0 219.9L168.0 219.9zM176.3 218.5L180.3 225.5L172.3 225.5zM179.0 220.5L183.0 227.5L175.0 227.5zM183.0 228.5L187.0 235.5L179.0 235.5zM186.4 235.3L190.4 242.3L182.4 242.3zM187.8 237.5L191.8 244.5L183.8 244.5zM191.4 248.3L195.4 255.3L187.4 255.3zM195.0 252.5L199.0 259.5L191.0 259.5zM198.0 257.5L202.0 264.5L194.0 264.5zM202.3 262.0L206.3 269.0L198.3 269.0zM206.6 266.5L210.6 273.5L202.6 273.5zM210.0 271.5L214.0 278.5L206.0 278.5zM214.0 277.5L218.0 284.5L210.0 284.5zM218.0 282.5L222.0 289.5L214.0 289.5zM221.4 283.5L225.4 290.5L217.4 290.5zM220.7 283.6L224.7 290.6L216.7 290.6zM223.6 287.0L227.6 294.1L219.6 294.1zM224.3 288.5L228.3 295.5L220.3 295.5zM227.0 287.7L231.0 294.7L223.0 294.7zM226.0 290.1L230.0 297.2L222.0 297.2zM229.8 290.9L233.8 298.0L225.8 298.0zM229.4 289.2L233.4 296.3L225.4 296.3zM231.9 294.2L235.9 301.3L227.9 301.3zM232.4 294.0L236.4 301.0L228.4 301.0zM235.4 293.4L239.4 300.5L231.4 300.5zM234.3 293.1L238.3 300.2L230.3 300.2zM237.6 295.8L241.6 302.9L233.6 302.9zM238.1 296.0L242.1 303.0L234.1 303.0zM240.5 296.8L244.5 303.9L236.5 303.9zM240.3 296.1L244.3 303.1L236.3 303.1zM242.5 297.6L246.5 304.7L238.5 304.7zM242.8 298.1L246.8 305.2L238.8 305.2zM246.0 296.7L250.0 303.7L242.0 303.7zM245.4 296.5L249.4 303.5L241.4 303.5zM248.8 298.8L252.8 305.9L244.8 305.9zM248.1 296.6L252.1 303.6L244.1 303.6zM251.4 299.0L255.4 306.0L247.4 306.0zM251.2 297.7L255.2 304.7L247.2 304.7zM254.2 297.3L258.2 304.3L250.2 304.3zM253.9 298.9L257.9 305.9L249.9 305.9zM257.4 299.9L261.4 306.9L253.4 306.9zM257.3 299.3L261.3 306.3L253.3 306.3zM259.3 298.8L263.3 305.9L255.3 305.9zM260.2 300.5L264.2 307.5L256.2 307.5zM262.2 298.4L266.2 305.4L258.2 305.4zM262.4 300.7L266.4 307.8L258.4 307.8zM265.1 299.6L269.1 306.6L261.1 306.6zM265.3 302.0L269.4 309.0L261.3 309.0zM267.6 299.1L271.6 306.2L263.6 306.2zM267.7 300.5L271.7 307.6L263.7 307.6zM270.9 300.0L274.9 307.0L266.9 307.0zM271.0 301.9L275.0 308.9L267.0 308.9zM273.4 300.2L277.4 307.3L269.4 307.3zM274.0 300.6L278.0 307.6L270.0 307.6zM276.6 300.5L280.6 307.6L272.6 307.6zM275.9 302.4L279.9 309.5L271.8 309.5zM278.7 303.4L282.7 310.4L274.7 310.4zM278.9 300.6L282.9 307.6L274.9 307.6zM281.4 301.7L285.4 308.7L277.4 308.7zM281.9 303.6L285.9 310.6L277.9 310.6zM284.0 301.8L288.0 308.8L280.0 308.8zM284.1 303.9L288.1 310.9L280.1 310.9zM286.8 300.8L290.8 307.8L282.8 307.8zM286.7 302.0L290.7 309.1L282.7 309.1zM290.5 304.0L294.5 311.1L286.5 311.1zM290.3 304.4L294.3 311.5L286.3 311.5zM293.3 302.3L297.3 309.3L289.3 309.3zM292.4 304.4L296.4 311.5L288.4 311.5zM295.8 301.4L299.8 308.5L291.8 308.5zM295.7 302.7L299.7 309.7L291.7 309.7zM298.1 302.7L302.1 309.8L294.1 309.8zM297.9 301.5L301.9 308.6L293.9 308.6zM300.8 303.0L304.8 310.1L296.8 310.1zM301.6 302.2L305.6 309.2L297.6 309.2zM304.3 302.7L308.3 309.7L300.3 309.7zM303.6 304.9L307.6 311.9L299.6 311.9zM306.9 303.7L310.9 310.7L302.9 310.7zM306.0 303.8L310.0 310.9L302.0 310.9zM309.1 305.6L313.1 312.7L305.1 312.7zM308.9 303.6L312.9 310.7L304.9 310.7zM312.5 302.6L316.5 309.7L308.5 309.7zM311.9 305.4L316.0 312.5L307.9 312.5zM315.1 302.8L319.1 309.9L311.1 309.9zM314.3 302.9L318.3 310.0L310.3 310.0zM318.1 303.8L322.1 310.9L314.1 310.9zM317.9 306.1L321.9 313.2L313.9 313.2zM320.1 304.1L324.1 311.1L316.1 311.1zM320.9 305.3L324.9 312.3L316.9 312.3zM322.8 305.8L326.8 312.9L318.8 312.9zM322.9 304.3L326.9 311.3L318.9 311.3zM325.3 306.2L329.3 313.2L321.3 313.2zM326.4 305.7L330.4 312.8L322.4 312.8zM329.1 303.7L333.1 310.8L325.1 310.8zM328.3 305.3L332.3 312.4L324.3 312.4zM331.9 307.3L335.9 314.3L327.9 314.3zM331.2 304.7L335.2 311.8L327.2 311.8zM334.0 305.8L338.0 312.8L330.0 312.8zM334.6 304.7L338.6 311.7L330.6 311.7zM337.3 307.4L341.3 314.4L333.3 314.4zM337.3 307.5L341.3 314.6L333.3 314.6zM339.8 306.9L343.8 313.9L335.8 313.9zM339.4 307.0L343.4 314.1L335.4 314.1zM342.7 307.0L346.7 314.0L338.7 314.0zM342.0 309.4L346.0 316.4L338.0 316.4zM344.9 307.9L348.9 314.9L340.9 314.9zM344.6 309.7L348.6 316.7L340.6 316.7zM347.7 312.2L351.7 319.2L343.7 319.2zM348.4 312.2L352.4 319.2L344.4 319.2zM350.4 309.9L354.4 317.0L346.4 317.0zM350.2 311.4L354.2 318.5L346.2 318.5zM353.7 312.2L357.7 319.2L349.7 319.2zM353.1 312.1L357.1 319.1L349.1 319.1zM356.4 314.4L360.4 321.4L352.3 321.4zM356.5 315.0L360.5 322.0L352.5 322.0zM359.2 313.8L363.2 320.8L355.2 320.8zM359.4 314.4L363.4 321.4L355.4 321.4zM361.8 316.1L365.8 323.1L357.8 323.1zM362.0 315.4L366.0 322.5L358.0 322.5zM364.2 317.0L368.2 324.0L360.2 324.0zM364.1 319.3L368.1 326.3L360.1 326.3zM367.3 318.7L371.3 325.7L363.3 325.7zM367.1 321.1L371.1 328.1L363.1 328.1zM370.0 319.7L374.0 326.8L366.0 326.8zM370.4 321.2L374.4 328.3L366.4 328.3zM373.4 321.5L377.4 328.5L369.3 328.5zM372.7 324.1L376.7 331.1L368.7 331.1zM375.9 326.9L379.9 333.9L371.9 333.9zM375.0 324.6L379.0 331.7L371.0 331.7zM377.8 326.7L381.8 333.8L373.8 333.8zM378.8 328.1L382.8 335.2L374.8 335.2zM381.6 329.8L385.6 336.9L377.6 336.9zM381.5 330.1L385.5 337.2L377.5 337.2zM383.5 333.8L387.5 340.8L379.5 340.8zM384.3 331.4L388.3 338.4L380.3 338.4zM386.7 335.7L390.7 342.7L382.7 342.7zM386.2 334.8L390.2 341.8L382.2 341.8zM388.9 337.2L392.9 344.3L384.9 344.3zM389.0 338.6L393.0 345.7L385.0 345.7zM392.3 340.6L396.3 347.6L388.3 347.6zM391.5 341.0L395.5 348.1L387.5 348.1zM395.0 343.9L399.1 350.9L391.0 350.9zM394.6 343.9L398.6 351.0L390.6 351.0zM389.9 338.5L394.0 345.5L385.9 345.5zM393.3 343.0L397.3 350.0L389.3 350.0zM396.3 347.5L400.3 354.5L392.3 354.5zM400.5 352.0L404.5 359.0L396.5 359.0zM405.1 356.5L409.1 363.5L401.1 363.5zM409.5 361.0L413.5 368.0L405.5 368.0zM413.8 365.5L417.8 372.5L409.8 372.5zM415.9 370.0L419.9 377.0L411.9 377.0zM418.8 374.5L422.8 381.5L414.8 381.5zM422.2 379.0L426.2 386.0L418.2 386.0zM423.8 383.5L427.8 390.5L419.8 390.5zM425.6 388.0L429.6 395.0L421.6 395.0zM427.5 392.5L431.5 399.5L423.5 399.5zM429.9 397.0L433.9 404.0L425.9 404.0zM430.2 401.5L434.2 408.5L426.2 408.5zM431.9 406.0L435.9 413.0L427.9 413.0z" stroke="#00ff00" stroke-width="1.5" fill="none" stroke-linejoin="miter"/>
<path d="M151.1 227.3l7.0 7.0M151.1 234.3l7.0 -7.0M154.7 226.5l7.0 7.0M154.7 233.5l7.0 -7.0M152.5 236.0l7.0 7.0M152.5 243.0l7.0 -7.0M148.2 241.8l7.0 7.0M148.2 248.8l7.0 -7.0M163.4 227.3l7.0 7.0M163.4 234.3l7.0 -7.0M166.3 234.5l7.0 7.0M166.3 241.5l7.0 -7.0M169.9 241.8l7.0 7.0M169.9 248.8l7.0 -7.0M171.3 246.1l7.0 7.0M171.3 253.1l7.0 -7.0M169.9 251.9l7.0 7.0M169.9 258.9l7.0 -7.0M180.0 251.9l7.0 7.0M180.0 258.9l7.0 -7.0M180.7 268.5l7.0 7.0M180.7 275.5l7.0 -7.0M184.3 268.5l7.0 7.0M184.3 275.5l7.0 -7.0M296.9 289.9l7.0 7.0M296.9 296.9l7.0 -7.0M232.5 291.5l7.0 7.0M232.5 298.5l7.0 -7.0M239.5 295.5l7.0 7.0M239.5 302.5l7.0 -7.0M246.5 293.5l7.0 7.0M246.5 300.5l7.0 -7.0M341.3 299.3l7.0 7.0M341.3 306.3l7.0 -7.0M344.7 301.6l7.0 7.0M344.7 308.6l7.0 -7.0M346.9 301.1l7.0 7.0M346.9 308.1l7.0 -7.0M350.1 302.2l7.0 7.0M350.1 309.2l7.0 -7.0M351.9 304.7l7.0 7.0M351.9 311.7l7.0 -7.0M355.2 305.7l7.0 7.0M355.2 312.7l7.0 -7.0M357.9 307.0l7.0 7.0M357.9 314.0l7.0 -7.0M360.8 307.0l7.0 7.0M360.8 314.0l7.0 -7.0M363.0 309.1l7.0 7.0M363.0 316.1l7.0 -7.0M366.5 311.2l7.0 7.0M366.5 318.2l7.0 -7.0M368.6 312.4l7.0 7.0M368.6 319.4l7.0 -7.0M371.7 314.1l7.0 7.0M371.7 321.1l7.0 -7.0M374.2 315.6l7.0 7.0M374.2 322.6l7.0 -7.0M377.4 318.8l7.0 7.0M377.4 325.8l7.0 -7.0M379.7 319.9l7.0 7.0M379.7 326.9l7.0 -7.0M383.3 322.8l7.0 7.0M383.3 329.8l7.0 -7.0M385.3 323.5l7.0 7.0M385.3 330.5l7.0 -7.0M388.9 328.0l7.0 7.0M388.9 335.0l7.0 -7.0M391.1 329.0l7.0 7.0M391.1 336.0l7.0 -7.0M394.4 332.8l7.0 7.0M394.4 339.8l7.0 -7.0M394.1 332.5l7.0 7.0M394.1 339.5l7.0 -7.0M396.4 335.9l7.0 7.0M396.4 342.9l7.0 -7.0M399.8 339.3l7.0 7.0M399.8 346.3l7.0 -7.0M402.2 342.7l7.0 7.0M402.2 349.7l7.0 -7.0M405.4 346.1l7.0 7.0M405.4 353.1l7.0 -7.0M407.0 349.5l7.0 7.0M407.0 356.5l7.0 -7.0M409.7 352.9l7.0 7.0M409.7 359.9l7.0 -7.0M412.7 356.3l7.0 7.0M412.7 363.3l7.0 -7.0M415.1 359.7l7.0 7.0M415.1 366.7l7.0 -7.0M416.5 363.1l7.0 7.0M416.5 370.1l7.0 -7.0M418.8 366.5l7.0 7.0M418.8 373.5l7.0 -7.0M421.0 369.9l7.0 7.0M421.0 376.9l7.0 -7.0M422.9 373.3l7.0 7.0M422.9 380.3l7.0 -7.0M424.4 376.7l7.0 7.0M424.4 383.7l7.0 -7.0M425.2 380.1l7.0 7.0M425.2 387.1l7.0 -7.0M426.2 383.5l7.0 7.0M426.2 390.5l7.0 -7.0M427.7 386.9l7.0 7.0M427.7 393.9l7.0 -7.0M428.7 390.3l7.0 7.0M428.7 397.3l7.0 -7.0M428.3 393.7l7.0 7.0M428.3 400.7l7.0 -7.0M429.9 397.1l7.0 7.0M429.9 404.1l7.0 -7.0M430.7 400.5l7.0 7.0M430.7 407.5l7.0 -7.0M430.3 403.9l7.0 7.0M430.3 410.9l7.0 -7.0M432.1 407.3l7.0 7.0M432.1 414.3l7.0 -7.0M431.6 410.7l7.0 7.0M431.6 417.7l7.0 -7.0M433.1 414.1l7.0 7.0M433.1 421.1l7.0 -7.0M434.3 417.5l7.0 7.0M434.3 424.5l7.0 -7.0M435.6 420.9l7.0 7.0M435.6 427.9l7.0 -7.0M436.4 424.3l7.0 7.0M436.4 431.3l7.0 -7.0M437.8 427.7l7.0 7.0M437.8 434.7l7.0 -7.0M439.0 431.1l7.0 7.0M439.0 438.1l7.0 -7.0M439.5 434.5l7.0 7.0M439.5 441.5l7.0 -7.0M440.6 437.9l7.0 7.0M440.6 444.9l7.0 -7.0M441.0 441.3l7.0 7.0M441.0 448.3l7.0 -7.0M441.7 444.7l7.0 7.0M441.7 451.7l7.0 -7.0M441.9 448.1l7.0 7.0M441.9 455.1l7.0 -7.0M443.3 451.5l7.0 7.0M443.3 458.5l7.0 -7.0M443.4 454.5l7.0 7.0M443.4 461.5l7.0 -7.0M443.8 461.0l7.0 7.0M443.8 468.0l7.0 -7.0M445.6 467.5l7.0 7.0M445.6 474.5l7.0 -7.0M447.0 474.0l7.0 7.0M447.0 481.0l7.0 -7.0M448.1 480.5l7.0 7.0M448.1 487.5l7.0 -7.0M449.3 487.0l7.0 7.0M449.3 494.0l7.0 -7.0M451.2 493.5l7.0 7.0M451.2 500.5l7.0 -7.0M452.0 500.0l7.0 7.0M452.0 507.0l7.0 -7.0M453.9 506.5l7.0 7.0M453.9 513.5l7.0 -7.0M456.0 513.0l7.0 7.0M456.0 520.0l7.0 -7.0M456.9 519.5l7.0 7.0M456.9 526.5l7.0 -7.0M458.7 526.0l7.0 7.0M458.7 533.0l7.0 -7.0M460.7 532.5l7.0 7.0M460.7 539.5l7.0 -7.0M461.9 539.0l7.0 7.0M461.9 546.0l7.0 -7.0M464.7 545.5l7.0 7.0M464.7 552.5l7.0 -7.0M466.6 552.0l7.0 7.0M466.6 559.0l7.0 -7.0M467.9 558.5l7.0 7.0M467.9 565.5l7.0 -7.0M459.0 526.5l7.0 7.0M459.0 533.5l7.0 -7.0M464.9 535.1l7.0 7.0M464.9 542.1l7.0 -7.0M473.4 538.4l7.0 7.0M473.4 545.4l7.0 -7.0M480.1 541.8l7.0 7.0M480.1 548.8l7.0 -7.0M476.7 546.9l7.0 7.0M476.7 553.9l7.0 -7.0M490.2 545.2l7.0 7.0M490.2 552.2l7.0 -7.0M472.5 550.2l7.0 7.0M472.5 557.2l7.0 -7.0M486.9 553.5l7.0 7.0M486.9 560.5l7.0 -7.0M468.3 562.0l7.0 7.0M468.3 569.0l7.0 -7.0M475.8 539.0l7.0 7.0M475.8 546.0l7.0 -7.0M483.0 546.3l7.0 7.0M483.0 553.3l7.0 -7.0M516.4 571.3l7.0 7.0M516.4 578.3l7.0 -7.0M548.4 582.3l7.0 7.0M548.4 589.3l7.0 -7.0M515.5 584.0l7.0 7.0M515.5 591.0l7.0 -7.0M497.8 587.3l7.0 7.0M497.8 594.3l7.0 -7.0M520.6 590.7l7.0 7.0M520.6 597.7l7.0 -7.0M529.0 593.2l7.0 7.0M529.0 600.2l7.0 -7.0M513.8 601.7l7.0 7.0M513.8 608.7l7.0 -7.0M523.1 600.8l7.0 7.0M523.1 607.8l7.0 -7.0M530.7 605.0l7.0 7.0M530.7 612.0l7.0 -7.0M545.0 612.5l7.0 7.0M545.0 619.5l7.0 -7.0M542.5 602.5l7.0 7.0M542.5 609.5l7.0 -7.0M557.7 619.4l7.0 7.0M557.7 626.4l7.0 -7.0M564.5 624.5l7.0 7.0M564.5 631.5l7.0 -7.0M577.9 616.0l7.0 7.0M577.9 623.0l7.0 -7.0M584.7 632.9l7.0 7.0M584.7 639.9l7.0 -7.0M596.5 642.2l7.0 7.0M596.5 649.2l7.0 -7.0M578.2 615.5l7.0 7.0M578.2 622.5l7.0 -7.0M584.1 632.4l7.0 7.0M584.1 639.4l7.0 -7.0M595.9 641.7l7.0 7.0M595.9 648.7l7.0 -7.0M601.0 627.3l7.0 7.0M601.0 634.3l7.0 -7.0M612.8 636.5l7.0 7.0M612.8 643.5l7.0 -7.0M627.9 652.5l7.0 7.0M627.9 659.5l7.0 -7.0M657.5 658.5l7.0 7.0M657.5 665.5l7.0 -7.0M662.5 666.1l7.0 7.0M662.5 673.1l7.0 -7.0M668.5 672.9l7.0 7.0M668.5 679.9l7.0 -7.0M673.5 667.8l7.0 7.0M673.5 674.8l7.0 -7.0M674.3 674.5l7.0 7.0M674.3 681.5l7.0 -7.0M683.5 674.5l7.0 7.0M683.5 681.5l7.0 -7.0M684.5 677.9l7.0 7.0M684.5 684.9l7.0 -7.0M697.1 682.1l7.0 7.0M697.1 689.1l7.0 -7.0M706.4 682.1l7.0 7.0M706.4 689.1l7.0 -7.0M712.5 690.5l7.0 7.0M712.5 697.5l7.0 -7.0M720.5 693.5l7.0 7.0M720.5 700.5l7.0 -7.0M727.5 699.5l7.0 7.0M727.5 706.5l7.0 -7.0M733.5 706.5l7.0 7.0M733.5 713.5l7.0 -7.0" stroke="#006400" stroke-width="1.55" fill="none" stroke-linejoin="miter"/>
<path d="M149.1 109.5h6.7v6.7h-6.7zM147.7 119.6h6.7v6.7h-6.7zM153.3 130.3h6.7v6.7h-6.7zM152.7 136.8h6.7v6.7h-6.7zM157.1 143.3h6.7v6.7h-6.7zM165.0 152.7h6.7v6.7h-6.7zM171.5 159.2h6.7v6.7h-6.7zM173.7 168.7h6.7v6.7h-6.7zM175.8 180.6h6.7v6.7h-6.7zM183.8 193.6h6.7v6.7h-6.7zM188.8 210.2h6.7v6.7h-6.7zM195.3 220.2h6.7v6.7h-6.7zM199.0 225.3h6.7v6.7h-6.7zM201.8 229.0h6.7v6.7h-6.7zM203.2 234.7h6.7v6.7h-6.7zM205.5 240.6h6.7v6.7h-6.7zM208.7 246.7h6.7v6.7h-6.7zM211.7 251.7h6.7v6.7h-6.7zM214.0 254.5h6.7v6.7h-6.7zM213.1 254.4h6.7v6.7h-6.7zM216.3 260.6h6.7v6.7h-6.7zM216.0 260.3h6.7v6.7h-6.7zM219.8 264.5h6.7v6.7h-6.7zM219.5 262.8h6.7v6.7h-6.7zM222.5 266.7h6.7v6.7h-6.7zM222.5 268.1h6.7v6.7h-6.7zM224.3 270.7h6.7v6.7h-6.7zM225.2 268.4h6.7v6.7h-6.7zM227.3 272.7h6.7v6.7h-6.7zM227.0 273.2h6.7v6.7h-6.7zM229.9 275.0h6.7v6.7h-6.7zM229.8 274.0h6.7v6.7h-6.7zM233.5 274.6h6.7v6.7h-6.7zM232.7 275.5h6.7v6.7h-6.7zM235.5 274.9h6.7v6.7h-6.7zM235.3 275.3h6.7v6.7h-6.7zM239.0 277.9h6.7v6.7h-6.7zM239.0 276.3h6.7v6.7h-6.7zM241.6 277.0h6.7v6.7h-6.7zM241.3 278.7h6.7v6.7h-6.7zM243.8 280.4h6.7v6.7h-6.7zM244.1 279.4h6.7v6.7h-6.7zM247.2 278.8h6.7v6.7h-6.7zM247.4 280.5h6.7v6.7h-6.7zM249.4 281.4h6.7v6.7h-6.7zM249.2 282.0h6.7v6.7h-6.7zM252.4 280.4h6.7v6.7h-6.7zM252.6 280.7h6.7v6.7h-6.7zM254.7 282.1h6.7v6.7h-6.7zM254.5 282.3h6.7v6.7h-6.7zM257.5 282.2h6.7v6.7h-6.7zM258.4 282.0h6.7v6.7h-6.7zM260.8 281.5h6.7v6.7h-6.7zM260.0 280.6h6.7v6.7h-6.7zM262.9 282.9h6.7v6.7h-6.7zM263.2 282.6h6.7v6.7h-6.7zM266.6 281.6h6.7v6.7h-6.7zM265.7 283.2h6.7v6.7h-6.7zM268.3 281.3h6.7v6.7h-6.7zM268.7 281.6h6.7v6.7h-6.7zM271.4 282.2h6.7v6.7h-6.7zM271.7 283.3h6.7v6.7h-6.7zM274.0 283.6h6.7v6.7h-6.7zM274.3 282.0h6.7v6.7h-6.7zM277.6 282.5h6.7v6.7h-6.7zM276.7 282.0h6.7v6.7h-6.7zM280.0 284.7h6.7v6.7h-6.7zM280.2 283.2h6.7v6.7h-6.7zM282.3 282.1h6.7v6.7h-6.7zM282.8 283.8h6.7v6.7h-6.7zM285.2 284.2h6.7v6.7h-6.7zM285.3 285.2h6.7v6.7h-6.7zM288.4 283.1h6.7v6.7h-6.7zM288.6 282.4h6.7v6.7h-6.7zM290.9 283.7h6.7v6.7h-6.7zM290.6 282.6h6.7v6.7h-6.7zM294.0 282.6h6.7v6.7h-6.7zM293.7 285.6h6.7v6.7h-6.7zM296.0 283.4h6.7v6.7h-6.7zM296.6 284.4h6.7v6.7h-6.7zM299.4 285.5h6.7v6.7h-6.7zM298.8 283.9h6.7v6.7h-6.7zM301.7 283.2h6.7v6.7h-6.7zM302.4 285.5h6.7v6.7h-6.7zM305.0 283.2h6.7v6.7h-6.7zM305.1 285.5h6.7v6.7h-6.7zM307.4 285.6h6.7v6.7h-6.7zM307.4 284.0h6.7v6.7h-6.7zM309.8 284.2h6.7v6.7h-6.7zM309.7 284.5h6.7v6.7h-6.7zM313.3 285.8h6.7v6.7h-6.7zM313.4 285.8h6.7v6.7h-6.7zM315.5 285.4h6.7v6.7h-6.7zM315.7 286.2h6.7v6.7h-6.7zM318.5 284.7h6.7v6.7h-6.7zM318.7 286.9h6.7v6.7h-6.7zM320.9 286.8h6.7v6.7h-6.7zM320.7 284.8h6.7v6.7h-6.7zM323.7 286.5h6.7v6.7h-6.7zM324.6 286.5h6.7v6.7h-6.7zM326.6 287.0h6.7v6.7h-6.7zM326.6 285.0h6.7v6.7h-6.7zM330.0 286.4h6.7v6.7h-6.7zM329.8 286.5h6.7v6.7h-6.7zM332.9 286.1h6.7v6.7h-6.7zM332.7 286.9h6.7v6.7h-6.7zM335.5 286.7h6.7v6.7h-6.7zM335.3 287.2h6.7v6.7h-6.7zM337.6 286.7h6.7v6.7h-6.7zM338.0 286.3h6.7v6.7h-6.7zM341.1 287.3h6.7v6.7h-6.7zM340.0 287.1h6.7v6.7h-6.7zM343.9 288.6h6.7v6.7h-6.7zM342.9 287.6h6.7v6.7h-6.7zM345.5 290.5h6.7v6.7h-6.7zM346.3 290.5h6.7v6.7h-6.7zM349.1 289.2h6.7v6.7h-6.7zM349.0 290.1h6.7v6.7h-6.7zM352.0 292.3h6.7v6.7h-6.7zM352.1 289.9h6.7v6.7h-6.7zM354.8 293.3h6.7v6.7h-6.7zM354.9 290.7h6.7v6.7h-6.7zM356.8 291.4h6.7v6.7h-6.7zM356.6 293.8h6.7v6.7h-6.7zM360.3 293.8h6.7v6.7h-6.7zM360.3 293.8h6.7v6.7h-6.7zM362.4 292.8h6.7v6.7h-6.7zM362.2 294.9h6.7v6.7h-6.7zM365.1 294.2h6.7v6.7h-6.7zM365.3 293.2h6.7v6.7h-6.7zM367.9 294.9h6.7v6.7h-6.7zM368.4 295.2h6.7v6.7h-6.7zM370.7 298.2h6.7v6.7h-6.7zM370.9 297.8h6.7v6.7h-6.7zM373.8 296.3h6.7v6.7h-6.7zM373.6 297.6h6.7v6.7h-6.7zM376.8 298.4h6.7v6.7h-6.7zM376.7 299.0h6.7v6.7h-6.7zM378.9 301.1h6.7v6.7h-6.7zM378.7 301.0h6.7v6.7h-6.7zM381.6 299.5h6.7v6.7h-6.7zM381.6 301.9h6.7v6.7h-6.7zM385.3 300.8h6.7v6.7h-6.7zM384.7 302.4h6.7v6.7h-6.7zM387.8 303.6h6.7v6.7h-6.7zM387.5 304.1h6.7v6.7h-6.7zM390.6 306.1h6.7v6.7h-6.7zM390.8 306.2h6.7v6.7h-6.7zM392.7 309.7h6.7v6.7h-6.7zM393.0 307.8h6.7v6.7h-6.7zM395.9 309.9h6.7v6.7h-6.7zM396.1 311.9h6.7v6.7h-6.7zM398.9 313.9h6.7v6.7h-6.7zM398.3 313.2h6.7v6.7h-6.7zM401.2 317.1h6.7v6.7h-6.7zM400.8 317.1h6.7v6.7h-6.7zM403.5 318.2h6.7v6.7h-6.7zM403.8 320.4h6.7v6.7h-6.7zM403.1 318.6h6.7v6.7h-6.7zM405.5 321.6h6.7v6.7h-6.7zM408.8 324.6h6.7v6.7h-6.7zM410.1 327.6h6.7v6.7h-6.7zM412.6 330.6h6.7v6.7h-6.7zM414.8 333.6h6.7v6.7h-6.7zM417.3 336.6h6.7v6.7h-6.7zM419.2 339.6h6.7v6.7h-6.7zM420.6 342.6h6.7v6.7h-6.7zM421.7 345.6h6.7v6.7h-6.7zM424.8 351.6h6.7v6.7h-6.7zM426.5 356.8h6.7v6.7h-6.7zM429.6 362.0h6.7v6.7h-6.7zM431.2 367.2h6.7v6.7h-6.7zM432.9 372.4h6.7v6.7h-6.7zM433.3 377.6h6.7v6.7h-6.7zM435.1 382.8h6.7v6.7h-6.7zM436.9 388.0h6.7v6.7h-6.7zM437.7 393.2h6.7v6.7h-6.7zM438.0 398.4h6.7v6.7h-6.7zM439.8 403.6h6.7v6.7h-6.7zM442.5 408.8h6.7v6.7h-6.7zM443.6 414.0h6.7v6.7h-6.7zM444.4 419.2h6.7v6.7h-6.7zM445.3 424.4h6.7v6.7h-6.7zM447.0 429.6h6.7v6.7h-6.7zM448.5 434.8h6.7v6.7h-6.7zM448.3 440.0h6.7v6.7h-6.7zM448.8 445.2h6.7v6.7h-6.7zM449.5 450.4h6.7v6.7h-6.7zM450.8 455.6h6.7v6.7h-6.7zM452.6 460.8h6.7v6.7h-6.7zM453.4 466.0h6.7v6.7h-6.7zM454.9 471.2h6.7v6.7h-6.7zM455.9 476.4h6.7v6.7h-6.7zM458.5 481.6h6.7v6.7h-6.7zM459.0 486.8h6.7v6.7h-6.7zM458.7 492.0h6.7v6.7h-6.7zM461.6 497.2h6.7v6.7h-6.7zM462.2 502.4h6.7v6.7h-6.7zM464.8 507.6h6.7v6.7h-6.7zM467.9 526.9h6.7v6.7h-6.7zM471.6 527.6h6.7v6.7h-6.7zM474.4 514.6h6.7v6.7h-6.7zM480.2 518.9h6.7v6.7h-6.7zM483.1 521.6h6.7v6.7h-6.7zM490.3 521.6h6.7v6.7h-6.7zM488.9 526.6h6.7v6.7h-6.7zM495.4 530.5h6.7v6.7h-6.7zM503.3 529.0h6.7v6.7h-6.7zM501.9 533.4h6.7v6.7h-6.7zM509.1 534.6h6.7v6.7h-6.7zM514.9 536.2h6.7v6.7h-6.7zM517.9 539.1h6.7v6.7h-6.7zM526.5 539.1h6.7v6.7h-6.7zM519.2 546.4h6.7v6.7h-6.7zM530.9 546.4h6.7v6.7h-6.7zM466.6 527.6h6.7v6.7h-6.7zM472.6 528.4h6.7v6.7h-6.7zM481.9 520.0h6.7v6.7h-6.7zM495.4 529.2h6.7v6.7h-6.7zM503.0 528.4h6.7v6.7h-6.7zM498.8 533.5h6.7v6.7h-6.7zM507.2 533.5h6.7v6.7h-6.7zM512.4 536.0h6.7v6.7h-6.7zM519.0 536.9h6.7v6.7h-6.7zM527.4 539.4h6.7v6.7h-6.7zM515.6 541.9h6.7v6.7h-6.7zM519.9 547.0h6.7v6.7h-6.7zM530.9 547.0h6.7v6.7h-6.7zM537.6 547.9h6.7v6.7h-6.7zM542.6 551.2h6.7v6.7h-6.7zM549.4 552.9h6.7v6.7h-6.7zM544.4 556.2h6.7v6.7h-6.7zM546.0 562.1h6.7v6.7h-6.7zM557.9 557.1h6.7v6.7h-6.7zM562.9 557.9h6.7v6.7h-6.7zM566.2 563.9h6.7v6.7h-6.7zM573.0 563.9h6.7v6.7h-6.7zM574.6 568.9h6.7v6.7h-6.7zM579.8 570.6h6.7v6.7h-6.7zM585.6 571.4h6.7v6.7h-6.7zM578.4 570.1h6.7v6.7h-6.7zM585.0 571.9h6.7v6.7h-6.7zM596.0 579.4h6.7v6.7h-6.7zM601.9 579.4h6.7v6.7h-6.7zM598.6 585.4h6.7v6.7h-6.7zM611.2 585.4h6.7v6.7h-6.7zM613.8 590.4h6.7v6.7h-6.7zM629.8 589.9h6.7v6.7h-6.7zM662.6 609.8h6.7v6.7h-6.7zM660.1 617.4h6.7v6.7h-6.7zM671.0 612.4h6.7v6.7h-6.7zM673.6 617.4h6.7v6.7h-6.7zM678.6 621.6h6.7v6.7h-6.7zM681.2 624.9h6.7v6.7h-6.7zM684.6 622.4h6.7v6.7h-6.7zM686.2 629.1h6.7v6.7h-6.7zM696.4 630.0h6.7v6.7h-6.7zM706.5 630.9h6.7v6.7h-6.7zM714.9 640.9h6.7v6.7h-6.7zM729.1 647.1h6.7v6.7h-6.7zM734.6 650.6h6.7v6.7h-6.7zM471.6 521.2h6.7v6.7h-6.7zM475.4 518.8h6.7v6.7h-6.7zM479.3 520.5h6.7v6.7h-6.7zM483.1 523.3h6.7v6.7h-6.7zM489.4 525.9h6.7v6.7h-6.7zM493.5 525.0h6.7v6.7h-6.7zM497.9 531.0h6.7v6.7h-6.7zM503.2 532.1h6.7v6.7h-6.7zM508.1 531.8h6.7v6.7h-6.7zM513.8 537.7h6.7v6.7h-6.7zM518.5 539.1h6.7v6.7h-6.7zM522.3 538.5h6.7v6.7h-6.7zM526.2 541.3h6.7v6.7h-6.7zM532.4 545.2h6.7v6.7h-6.7zM535.4 545.8h6.7v6.7h-6.7zM539.9 549.6h6.7v6.7h-6.7zM544.8 552.1h6.7v6.7h-6.7zM550.2 553.5h6.7v6.7h-6.7zM554.9 556.5h6.7v6.7h-6.7zM559.8 561.1h6.7v6.7h-6.7zM562.7 560.8h6.7v6.7h-6.7zM568.3 562.7h6.7v6.7h-6.7zM573.1 565.2h6.7v6.7h-6.7zM577.4 565.2h6.7v6.7h-6.7zM581.0 571.5h6.7v6.7h-6.7zM585.5 570.4h6.7v6.7h-6.7zM587.2 572.4h6.7v6.7h-6.7z" stroke="#a020f0" stroke-width="1.5" fill="none" stroke-linejoin="miter"/>
<path d="M152.8 86.1L154.0 89.3L157.5 89.5L154.8 91.6L155.7 95.0L152.8 93.1L149.9 95.0L150.8 91.6L148.1 89.5L151.6 89.3zM151.7 96.1L152.9 99.3L156.4 99.5L153.7 101.6L154.6 105.0L151.7 103.1L148.8 105.0L149.7 101.6L147.0 99.5L150.5 99.3zM156.7 120.1L157.9 123.3L161.4 123.5L158.7 125.6L159.6 129.0L156.7 127.1L153.8 129.0L154.7 125.6L152.0 123.5L155.5 123.3zM155.3 131.7L156.5 134.9L160.0 135.1L157.3 137.2L158.2 140.6L155.3 138.7L152.4 140.6L153.3 137.2L150.6 135.1L154.1 134.9zM160.4 146.1L161.6 149.3L165.1 149.5L162.4 151.6L163.3 155.0L160.4 153.1L157.5 155.0L158.4 151.6L155.7 149.5L159.2 149.3zM165.0 152.1L166.2 155.3L169.7 155.5L167.0 157.6L167.9 161.0L165.0 159.1L162.1 161.0L163.0 157.6L160.3 155.5L163.8 155.3zM168.3 157.7L169.5 160.9L173.0 161.1L170.3 163.2L171.2 166.6L168.3 164.7L165.4 166.6L166.3 163.2L163.6 161.1L167.1 160.9zM172.0 162.1L173.2 165.3L176.7 165.5L174.0 167.6L174.9 171.0L172.0 169.1L169.1 171.0L170.0 167.6L167.3 165.5L170.8 165.3zM173.4 169.3L174.6 172.5L178.1 172.7L175.4 174.8L176.3 178.2L173.4 176.3L170.5 178.2L171.4 174.8L168.7 172.7L172.2 172.5zM176.0 177.1L177.2 180.3L180.7 180.5L178.0 182.6L178.9 186.0L176.0 184.1L173.1 186.0L174.0 182.6L171.3 180.5L174.8 180.3zM179.2 185.5L180.4 188.7L183.9 188.9L181.2 191.0L182.1 194.4L179.2 192.5L176.3 194.4L177.2 191.0L174.5 188.9L178.0 188.7zM183.0 195.1L184.2 198.3L187.7 198.5L185.0 200.6L185.9 204.0L183.0 202.1L180.1 204.0L181.0 200.6L178.3 198.5L181.8 198.3zM187.8 204.1L189.0 207.3L192.5 207.5L189.8 209.6L190.7 213.0L187.8 211.1L184.9 213.0L185.8 209.6L183.1 207.5L186.6 207.3zM191.0 211.1L192.2 214.3L195.7 214.5L193.0 216.6L193.9 220.0L191.0 218.1L188.1 220.0L189.0 216.6L186.3 214.5L189.8 214.3zM195.0 217.1L196.2 220.3L199.7 220.5L197.0 222.6L197.9 226.0L195.0 224.1L192.1 226.0L193.0 222.6L190.3 220.5L193.8 220.3zM200.8 225.9L202.0 229.1L205.5 229.3L202.8 231.4L203.7 234.8L200.8 232.9L197.9 234.8L198.8 231.4L196.1 229.3L199.6 229.1zM203.7 233.1L204.9 236.3L208.4 236.5L205.7 238.6L206.6 242.0L203.7 240.1L200.8 242.0L201.7 238.6L199.0 236.5L202.5 236.3zM207.0 237.1L208.2 240.3L211.7 240.5L209.0 242.6L209.9 246.0L207.0 244.1L204.1 246.0L205.0 242.6L202.3 240.5L205.8 240.3zM211.0 241.8L212.2 245.0L215.7 245.2L213.0 247.3L213.9 250.7L211.0 248.8L208.1 250.7L209.0 247.3L206.3 245.2L209.8 245.0zM214.0 247.1L215.2 250.3L218.7 250.5L216.0 252.6L216.9 256.0L214.0 254.1L211.1 256.0L212.0 252.6L209.3 250.5L212.8 250.3zM251.4 251.4L252.6 254.6L256.1 254.8L253.4 256.9L254.3 260.3L251.4 258.4L248.5 260.3L249.4 256.9L246.7 254.8L250.2 254.6zM300.9 254.7L302.1 257.9L305.6 258.1L302.9 260.2L303.8 263.6L300.9 261.7L298.0 263.6L298.9 260.2L296.2 258.1L299.7 257.9zM216.9 251.5L218.1 254.7L221.6 254.9L218.9 257.0L219.8 260.4L216.9 258.5L214.0 260.4L214.9 257.0L212.2 254.9L215.7 254.7zM217.2 251.2L218.5 254.4L221.9 254.5L219.2 256.7L220.1 260.0L217.2 258.2L214.4 260.0L215.2 256.7L212.6 254.5L216.0 254.4zM216.7 250.5L218.0 253.7L221.4 253.9L218.7 256.1L219.6 259.4L216.7 257.5L213.8 259.4L214.7 256.1L212.1 253.9L215.5 253.7zM220.0 256.1L221.3 259.3L224.7 259.5L222.0 261.7L222.9 265.0L220.0 263.1L217.2 265.0L218.1 261.7L215.4 259.5L218.8 259.3zM219.8 252.6L221.0 255.8L224.5 256.0L221.8 258.2L222.7 261.5L219.8 259.6L216.9 261.5L217.8 258.2L215.1 256.0L218.6 255.8zM220.1 253.5L221.4 256.7L224.8 256.9L222.1 259.0L223.0 262.3L220.1 260.5L217.2 262.3L218.1 259.0L215.5 256.9L218.9 256.7zM222.2 254.3L223.4 257.5L226.8 257.7L224.2 259.9L225.1 263.2L222.2 261.3L219.3 263.2L220.2 259.9L217.5 257.7L220.9 257.5zM222.9 257.6L224.1 260.8L227.5 261.0L224.8 263.1L225.7 266.5L222.9 264.6L220.0 266.5L220.9 263.1L218.2 261.0L221.6 260.8zM222.7 256.0L223.9 259.2L227.3 259.3L224.7 261.5L225.6 264.8L222.7 263.0L219.8 264.8L220.7 261.5L218.0 259.3L221.4 259.2zM225.4 255.7L226.6 258.9L230.0 259.1L227.3 261.3L228.2 264.6L225.4 262.7L222.5 264.6L223.4 261.3L220.7 259.1L224.1 258.9zM225.8 256.4L227.1 259.6L230.5 259.7L227.8 261.9L228.7 265.2L225.8 263.4L223.0 265.2L223.8 261.9L221.2 259.7L224.6 259.6zM225.4 258.6L226.7 261.8L230.1 262.0L227.4 264.1L228.3 267.5L225.4 265.6L222.6 267.5L223.4 264.1L220.8 262.0L224.2 261.8zM228.4 257.9L229.7 261.1L233.1 261.2L230.4 263.4L231.3 266.7L228.4 264.9L225.5 266.7L226.4 263.4L223.8 261.2L227.2 261.1zM227.8 258.2L229.0 261.4L232.5 261.6L229.8 263.8L230.7 267.1L227.8 265.2L224.9 267.1L225.8 263.8L223.1 261.6L226.6 261.4zM227.6 259.6L228.8 262.8L232.2 263.0L229.6 265.2L230.5 268.5L227.6 266.6L224.7 268.5L225.6 265.2L222.9 263.0L226.4 262.8zM230.6 260.6L231.9 263.8L235.3 264.0L232.6 266.2L233.5 269.5L230.6 267.6L227.7 269.5L228.6 266.2L226.0 264.0L229.4 263.8zM230.5 258.4L231.8 261.6L235.2 261.8L232.5 263.9L233.4 267.2L230.5 265.4L227.6 267.2L228.5 263.9L225.9 261.8L229.3 261.6zM230.5 258.6L231.7 261.8L235.2 262.0L232.5 264.2L233.4 267.5L230.5 265.6L227.6 267.5L228.5 264.2L225.8 262.0L229.3 261.8zM233.2 256.7L234.4 259.9L237.8 260.1L235.2 262.3L236.1 265.6L233.2 263.7L230.3 265.6L231.2 262.3L228.5 260.1L231.9 259.9zM233.8 258.0L235.1 261.3L238.5 261.4L235.8 263.6L236.7 266.9L233.8 265.0L230.9 266.9L231.8 263.6L229.2 261.4L232.6 261.3zM233.2 258.1L234.5 261.3L237.9 261.5L235.2 263.7L236.1 267.0L233.2 265.1L230.4 267.0L231.3 263.7L228.6 261.5L232.0 261.3zM236.3 258.8L237.5 262.0L241.0 262.1L238.3 264.3L239.2 267.6L236.3 265.8L233.4 267.6L234.3 264.3L231.6 262.1L235.1 262.0zM236.5 259.9L237.7 263.1L241.1 263.3L238.5 265.4L239.4 268.7L236.5 266.9L233.6 268.7L234.5 265.4L231.8 263.3L235.2 263.1zM236.2 261.2L237.4 264.4L240.8 264.5L238.1 266.7L239.0 270.0L236.2 268.2L233.3 270.0L234.2 266.7L231.5 264.5L234.9 264.4zM239.5 257.0L240.7 260.2L244.2 260.4L241.5 262.5L242.4 265.8L239.5 264.0L236.6 265.8L237.5 262.5L234.8 260.4L238.3 260.2zM239.5 261.0L240.7 264.2L244.1 264.4L241.5 266.6L242.3 269.9L239.5 268.0L236.6 269.9L237.5 266.6L234.8 264.4L238.2 264.2zM239.4 257.4L240.6 260.6L244.1 260.8L241.4 262.9L242.3 266.2L239.4 264.4L236.5 266.2L237.4 262.9L234.8 260.8L238.2 260.6zM242.2 259.7L243.5 262.9L246.9 263.1L244.2 265.3L245.1 268.6L242.2 266.7L239.4 268.6L240.2 265.3L237.6 263.1L241.0 262.9zM241.3 256.8L242.5 260.0L245.9 260.1L243.2 262.3L244.1 265.6L241.3 263.8L238.4 265.6L239.3 262.3L236.6 260.1L240.0 260.0zM242.4 259.8L243.6 263.0L247.0 263.2L244.4 265.4L245.3 268.7L242.4 266.8L239.5 268.7L240.4 265.4L237.7 263.2L241.1 263.0zM244.3 257.6L245.5 260.8L249.0 260.9L246.3 263.1L247.2 266.4L244.3 264.6L241.4 266.4L242.3 263.1L239.6 260.9L243.1 260.8zM244.2 258.2L245.4 261.4L248.8 261.6L246.2 263.7L247.0 267.1L244.2 265.2L241.3 267.1L242.2 263.7L239.5 261.6L242.9 261.4zM244.9 258.7L246.2 261.9L249.6 262.1L246.9 264.3L247.8 267.6L244.9 265.7L242.0 267.6L242.9 264.3L240.3 262.1L243.7 261.9zM246.9 262.0L248.2 265.2L251.6 265.4L248.9 267.5L249.8 270.8L246.9 269.0L244.1 270.8L244.9 267.5L242.3 265.4L245.7 265.2zM247.7 258.4L248.9 261.6L252.4 261.8L249.7 264.0L250.6 267.3L247.7 265.4L244.8 267.3L245.7 264.0L243.0 261.8L246.5 261.6zM247.8 260.6L249.1 263.8L252.5 263.9L249.8 266.1L250.7 269.4L247.8 267.6L244.9 269.4L245.8 266.1L243.2 263.9L246.6 263.8zM250.4 261.4L251.7 264.6L255.1 264.8L252.4 267.0L253.3 270.3L250.4 268.4L247.6 270.3L248.5 267.0L245.8 264.8L249.2 264.6zM250.6 262.0L251.8 265.2L255.2 265.4L252.6 267.5L253.5 270.8L250.6 269.0L247.7 270.8L248.6 267.5L245.9 265.4L249.3 265.2zM250.5 259.1L251.8 262.3L255.2 262.5L252.5 264.7L253.4 268.0L250.5 266.1L247.6 268.0L248.5 264.7L245.9 262.5L249.3 262.3zM253.1 261.3L254.3 264.5L257.8 264.7L255.1 266.9L256.0 270.2L253.1 268.3L250.2 270.2L251.1 266.9L248.4 264.7L251.9 264.5zM253.2 260.9L254.4 264.1L257.8 264.3L255.2 266.4L256.0 269.7L253.2 267.9L250.3 269.7L251.2 266.4L248.5 264.3L251.9 264.1zM253.3 261.4L254.6 264.6L258.0 264.8L255.3 267.0L256.2 270.3L253.3 268.4L250.4 270.3L251.3 267.0L248.7 264.8L252.1 264.6zM255.3 260.4L256.6 263.6L260.0 263.8L257.3 266.0L258.2 269.3L255.3 267.4L252.5 269.3L253.4 266.0L250.7 263.8L254.1 263.6zM255.2 261.7L256.4 264.9L259.9 265.1L257.2 267.2L258.1 270.6L255.2 268.7L252.3 270.6L253.2 267.2L250.5 265.1L254.0 264.9zM255.1 261.6L256.3 264.8L259.8 264.9L257.1 267.1L258.0 270.4L255.1 268.6L252.2 270.4L253.1 267.1L250.4 264.9L253.9 264.8zM258.0 262.2L259.2 265.4L262.6 265.6L260.0 267.8L260.8 271.1L258.0 269.2L255.1 271.1L256.0 267.8L253.3 265.6L256.7 265.4zM258.4 262.4L259.6 265.6L263.0 265.8L260.4 268.0L261.3 271.3L258.4 269.4L255.5 271.3L256.4 268.0L253.7 265.8L257.2 265.6zM258.8 259.9L260.1 263.1L263.5 263.3L260.8 265.4L261.7 268.7L258.8 266.9L255.9 268.7L256.8 265.4L254.2 263.3L257.6 263.1zM261.6 262.6L262.8 265.8L266.2 266.0L263.6 268.2L264.4 271.5L261.6 269.6L258.7 271.5L259.6 268.2L256.9 266.0L260.3 265.8zM261.2 263.6L262.5 266.8L265.9 267.0L263.2 269.1L264.1 272.4L261.2 270.6L258.3 272.4L259.2 269.1L256.6 267.0L260.0 266.8zM261.6 262.2L262.8 265.4L266.2 265.6L263.6 267.7L264.4 271.0L261.6 269.2L258.7 271.0L259.6 267.7L256.9 265.6L260.3 265.4zM263.8 265.5L265.0 268.7L268.5 268.9L265.8 271.1L266.7 274.4L263.8 272.5L260.9 274.4L261.8 271.1L259.2 268.9L262.6 268.7zM263.4 264.0L264.6 267.2L268.1 267.4L265.4 269.5L266.3 272.8L263.4 271.0L260.5 272.8L261.4 269.5L258.7 267.4L262.2 267.2zM264.1 261.0L265.3 264.2L268.7 264.4L266.1 266.6L267.0 269.9L264.1 268.0L261.2 269.9L262.1 266.6L259.4 264.4L262.8 264.2zM266.8 264.7L268.0 267.9L271.5 268.1L268.8 270.3L269.7 273.6L266.8 271.7L263.9 273.6L264.8 270.3L262.1 268.1L265.6 267.9zM267.2 263.0L268.4 266.2L271.8 266.4L269.2 268.6L270.1 271.9L267.2 270.0L264.3 271.9L265.2 268.6L262.5 266.4L266.0 266.2zM267.2 263.9L268.5 267.1L271.9 267.3L269.2 269.4L270.1 272.8L267.2 270.9L264.4 272.8L265.2 269.4L262.6 267.3L266.0 267.1zM269.4 266.1L270.6 269.3L274.1 269.4L271.4 271.6L272.3 274.9L269.4 273.1L266.5 274.9L267.4 271.6L264.7 269.4L268.2 269.3zM268.9 265.2L270.1 268.4L273.5 268.6L270.9 270.8L271.7 274.1L268.9 272.2L266.0 274.1L266.9 270.8L264.2 268.6L267.6 268.4zM269.6 263.4L270.8 266.6L274.2 266.8L271.6 268.9L272.5 272.2L269.6 270.4L266.7 272.2L267.6 268.9L264.9 266.8L268.3 266.6zM272.6 263.7L273.9 266.9L277.3 267.1L274.6 269.3L275.5 272.6L272.6 270.7L269.7 272.6L270.6 269.3L268.0 267.1L271.4 266.9zM272.2 264.5L273.4 267.7L276.8 267.9L274.2 270.0L275.0 273.4L272.2 271.5L269.3 273.4L270.2 270.0L267.5 267.9L270.9 267.7zM272.5 263.0L273.7 266.2L277.2 266.4L274.5 268.5L275.4 271.9L272.5 270.0L269.6 271.9L270.5 268.5L267.9 266.4L271.3 266.2zM274.9 264.2L276.1 267.4L279.5 267.6L276.9 269.8L277.7 273.1L274.9 271.2L272.0 273.1L272.9 269.8L270.2 267.6L273.6 267.4zM275.0 266.2L276.2 269.4L279.7 269.5L277.0 271.7L277.9 275.0L275.0 273.2L272.1 275.0L273.0 271.7L270.3 269.5L273.8 269.4zM274.7 266.2L275.9 269.4L279.4 269.6L276.7 271.7L277.6 275.0L274.7 273.2L271.8 275.0L272.7 271.7L270.0 269.6L273.5 269.4zM277.6 264.8L278.8 268.0L282.2 268.2L279.6 270.4L280.5 273.7L277.6 271.8L274.7 273.7L275.6 270.4L272.9 268.2L276.4 268.0zM277.4 264.8L278.7 268.0L282.1 268.2L279.4 270.4L280.3 273.7L277.4 271.8L274.6 273.7L275.4 270.4L272.8 268.2L276.2 268.0zM278.3 265.6L279.5 268.8L282.9 268.9L280.3 271.1L281.2 274.4L278.3 272.6L275.4 274.4L276.3 271.1L273.6 268.9L277.0 268.8zM280.8 264.2L282.0 267.4L285.5 267.6L282.8 269.8L283.7 273.1L280.8 271.2L277.9 273.1L278.8 269.8L276.2 267.6L279.6 267.4zM280.2 264.1L281.5 267.3L284.9 267.5L282.2 269.6L283.1 272.9L280.2 271.1L277.4 272.9L278.2 269.6L275.6 267.5L279.0 267.3zM280.6 265.7L281.8 268.9L285.2 269.1L282.6 271.2L283.4 274.5L280.6 272.7L277.7 274.5L278.6 271.2L275.9 269.1L279.3 268.9zM283.6 263.1L284.8 266.3L288.2 266.4L285.6 268.6L286.4 271.9L283.6 270.1L280.7 271.9L281.6 268.6L278.9 266.4L282.3 266.3zM283.5 267.1L284.7 270.3L288.2 270.5L285.5 272.7L286.4 276.0L283.5 274.1L280.6 276.0L281.5 272.7L278.8 270.5L282.3 270.3zM283.3 263.1L284.5 266.3L287.9 266.5L285.3 268.6L286.2 272.0L283.3 270.1L280.4 272.0L281.3 268.6L278.6 266.5L282.0 266.3zM285.7 263.1L287.0 266.3L290.4 266.5L287.7 268.7L288.6 272.0L285.7 270.1L282.9 272.0L283.7 268.7L281.1 266.5L284.5 266.3zM285.6 267.5L286.8 270.7L290.3 270.9L287.6 273.1L288.5 276.4L285.6 274.5L282.7 276.4L283.6 273.1L281.0 270.9L284.4 270.7zM286.1 266.2L287.3 269.4L290.8 269.6L288.1 271.8L289.0 275.1L286.1 273.2L283.2 275.1L284.1 271.8L281.5 269.6L284.9 269.4zM289.1 267.7L290.3 270.9L293.7 271.1L291.1 273.2L292.0 276.5L289.1 274.7L286.2 276.5L287.1 273.2L284.4 271.1L287.9 270.9zM288.9 266.3L290.1 269.5L293.5 269.6L290.9 271.8L291.8 275.1L288.9 273.3L286.0 275.1L286.9 271.8L284.2 269.6L287.6 269.5zM288.9 266.6L290.1 269.8L293.6 270.0L290.9 272.2L291.8 275.5L288.9 273.6L286.0 275.5L286.9 272.2L284.2 270.0L287.7 269.8zM291.6 266.8L292.9 270.0L296.3 270.2L293.6 272.3L294.5 275.7L291.6 273.8L288.7 275.7L289.6 272.3L287.0 270.2L290.4 270.0zM291.2 266.7L292.4 269.9L295.8 270.1L293.2 272.3L294.0 275.6L291.2 273.7L288.3 275.6L289.2 272.3L286.5 270.1L289.9 269.9zM291.5 267.2L292.7 270.4L296.1 270.6L293.4 272.7L294.3 276.0L291.5 274.2L288.6 276.0L289.5 272.7L286.8 270.6L290.2 270.4zM293.8 264.6L295.0 267.8L298.4 268.0L295.8 270.2L296.7 273.5L293.8 271.6L290.9 273.5L291.8 270.2L289.1 268.0L292.5 267.8zM293.7 267.5L294.9 270.7L298.4 270.8L295.7 273.0L296.6 276.3L293.7 274.5L290.8 276.3L291.7 273.0L289.0 270.8L292.5 270.7zM294.8 266.9L296.0 270.1L299.4 270.3L296.8 272.4L297.6 275.8L294.8 273.9L291.9 275.8L292.8 272.4L290.1 270.3L293.5 270.1zM296.9 267.9L298.1 271.1L301.5 271.3L298.9 273.5L299.7 276.8L296.9 274.9L294.0 276.8L294.9 273.5L292.2 271.3L295.6 271.1zM297.4 266.7L298.6 269.9L302.0 270.0L299.4 272.2L300.2 275.5L297.4 273.7L294.5 275.5L295.4 272.2L292.7 270.0L296.1 269.9zM296.7 265.4L298.0 268.6L301.4 268.8L298.7 271.0L299.6 274.3L296.7 272.4L293.8 274.3L294.7 271.0L292.1 268.8L295.5 268.6zM299.7 265.7L300.9 268.9L304.3 269.1L301.7 271.3L302.6 274.6L299.7 272.7L296.8 274.6L297.7 271.3L295.0 269.1L298.5 268.9zM299.7 267.3L300.9 270.5L304.4 270.6L301.7 272.8L302.6 276.1L299.7 274.3L296.8 276.1L297.7 272.8L295.0 270.6L298.5 270.5zM300.3 264.4L301.5 267.6L305.0 267.8L302.3 270.0L303.2 273.3L300.3 271.4L297.4 273.3L298.3 270.0L295.6 267.8L299.1 267.6zM302.6 264.7L303.9 267.9L307.3 268.1L304.6 270.2L305.5 273.6L302.6 271.7L299.7 273.6L300.6 270.2L298.0 268.1L301.4 267.9zM302.1 268.4L303.3 271.6L306.7 271.8L304.1 273.9L305.0 277.3L302.1 275.4L299.2 277.3L300.1 273.9L297.4 271.8L300.8 271.6zM302.6 268.9L303.9 272.1L307.3 272.3L304.6 274.5L305.5 277.8L302.6 275.9L299.7 277.8L300.6 274.5L298.0 272.3L301.4 272.1zM305.2 264.9L306.5 268.1L309.9 268.3L307.2 270.5L308.1 273.8L305.2 271.9L302.4 273.8L303.2 270.5L300.6 268.3L304.0 268.1zM305.2 267.7L306.4 270.9L309.8 271.1L307.2 273.2L308.0 276.5L305.2 274.7L302.3 276.5L303.2 273.2L300.5 271.1L303.9 270.9zM305.8 269.5L307.1 272.7L310.5 272.9L307.8 275.1L308.7 278.4L305.8 276.5L302.9 278.4L303.8 275.1L301.2 272.9L304.6 272.7zM308.0 267.1L309.3 270.3L312.7 270.5L310.0 272.7L310.9 276.0L308.0 274.1L305.1 276.0L306.0 272.7L303.4 270.5L306.8 270.3zM307.6 268.3L308.8 271.5L312.2 271.6L309.6 273.8L310.5 277.1L307.6 275.3L304.7 277.1L305.6 273.8L302.9 271.6L306.3 271.5zM307.7 265.9L308.9 269.1L312.4 269.3L309.7 271.4L310.6 274.8L307.7 272.9L304.8 274.8L305.7 271.4L303.1 269.3L306.5 269.1zM310.2 265.5L311.5 268.7L314.9 268.9L312.2 271.1L313.1 274.4L310.2 272.5L307.4 274.4L308.2 271.1L305.6 268.9L309.0 268.7zM311.0 266.1L312.3 269.3L315.7 269.5L313.0 271.6L313.9 274.9L311.0 273.1L308.2 274.9L309.0 271.6L306.4 269.5L309.8 269.3zM311.4 265.9L312.6 269.1L316.0 269.3L313.4 271.5L314.3 274.8L311.4 272.9L308.5 274.8L309.4 271.5L306.7 269.3L310.1 269.1zM314.0 266.4L315.3 269.6L318.7 269.8L316.0 272.0L316.9 275.3L314.0 273.4L311.1 275.3L312.0 272.0L309.4 269.8L312.8 269.6zM313.0 269.3L314.2 272.5L317.7 272.7L315.0 274.8L315.9 278.1L313.0 276.3L310.1 278.1L311.0 274.8L308.3 272.7L311.8 272.5zM313.3 269.4L314.5 272.6L317.9 272.7L315.3 274.9L316.1 278.2L313.3 276.4L310.4 278.2L311.3 274.9L308.6 272.7L312.0 272.6zM316.0 266.4L317.2 269.6L320.6 269.8L318.0 271.9L318.8 275.3L316.0 273.4L313.1 275.3L314.0 271.9L311.3 269.8L314.7 269.6zM316.7 269.6L317.9 272.8L321.3 273.0L318.7 275.1L319.5 278.4L316.7 276.6L313.8 278.4L314.7 275.1L312.0 273.0L315.4 272.8zM316.8 269.7L318.0 272.9L321.4 273.0L318.8 275.2L319.6 278.5L316.8 276.7L313.9 278.5L314.8 275.2L312.1 273.0L315.5 272.9zM318.6 269.5L319.8 272.7L323.3 272.9L320.6 275.1L321.5 278.4L318.6 276.5L315.7 278.4L316.6 275.1L313.9 272.9L317.4 272.7zM319.3 268.7L320.6 271.9L324.0 272.1L321.3 274.3L322.2 277.6L319.3 275.7L316.5 277.6L317.3 274.3L314.7 272.1L318.1 271.9zM319.6 267.7L320.8 270.9L324.3 271.1L321.6 273.3L322.5 276.6L319.6 274.7L316.7 276.6L317.6 273.3L315.0 271.1L318.4 270.9zM322.4 270.0L323.6 273.2L327.1 273.4L324.4 275.5L325.3 278.9L322.4 277.0L319.5 278.9L320.4 275.5L317.8 273.4L321.2 273.2zM321.3 266.6L322.5 269.8L325.9 270.0L323.3 272.2L324.1 275.5L321.3 273.6L318.4 275.5L319.3 272.2L316.6 270.0L320.0 269.8zM322.0 270.5L323.3 273.7L326.7 273.9L324.0 276.0L324.9 279.3L322.0 277.5L319.2 279.3L320.0 276.0L317.4 273.9L320.8 273.7zM324.1 268.0L325.3 271.2L328.8 271.4L326.1 273.5L327.0 276.8L324.1 275.0L321.2 276.8L322.1 273.5L319.4 271.4L322.9 271.2zM324.9 267.3L326.1 270.5L329.5 270.7L326.9 272.8L327.8 276.1L324.9 274.3L322.0 276.1L322.9 272.8L320.2 270.7L323.7 270.5zM325.0 268.8L326.3 272.0L329.7 272.2L327.0 274.4L327.9 277.7L325.0 275.8L322.2 277.7L323.0 274.4L320.4 272.2L323.8 272.0zM326.8 268.2L328.1 271.4L331.5 271.6L328.8 273.7L329.7 277.0L326.8 275.2L324.0 277.0L324.8 273.7L322.2 271.6L325.6 271.4zM327.5 268.5L328.7 271.7L332.1 271.9L329.5 274.1L330.3 277.4L327.5 275.5L324.6 277.4L325.5 274.1L322.8 271.9L326.2 271.7zM327.6 267.1L328.8 270.3L332.2 270.5L329.6 272.6L330.5 276.0L327.6 274.1L324.7 276.0L325.6 272.6L322.9 270.5L326.3 270.3zM330.5 268.1L331.7 271.3L335.1 271.5L332.5 273.6L333.4 276.9L330.5 275.1L327.6 276.9L328.5 273.6L325.8 271.5L329.3 271.3zM330.3 269.4L331.5 272.6L335.0 272.7L332.3 274.9L333.2 278.2L330.3 276.4L327.4 278.2L328.3 274.9L325.6 272.7L329.1 272.6zM330.0 268.2L331.3 271.4L334.7 271.6L332.0 273.7L332.9 277.0L330.0 275.2L327.2 277.0L328.0 273.7L325.4 271.6L328.8 271.4zM333.2 270.8L334.5 274.0L337.9 274.2L335.2 276.3L336.1 279.7L333.2 277.8L330.4 279.7L331.2 276.3L328.6 274.2L332.0 274.0zM333.2 269.0L334.5 272.2L337.9 272.4L335.2 274.5L336.1 277.8L333.2 276.0L330.4 277.8L331.2 274.5L328.6 272.4L332.0 272.2zM332.6 266.5L333.9 269.7L337.3 269.9L334.6 272.1L335.5 275.4L332.6 273.5L329.8 275.4L330.6 272.1L328.0 269.9L331.4 269.7zM336.2 269.6L337.5 272.8L340.9 273.0L338.2 275.2L339.1 278.5L336.2 276.6L333.3 278.5L334.2 275.2L331.6 273.0L335.0 272.8zM336.0 267.9L337.3 271.1L340.7 271.2L338.0 273.4L338.9 276.7L336.0 274.9L333.2 276.7L334.0 273.4L331.4 271.2L334.8 271.1zM335.8 271.0L337.0 274.2L340.4 274.3L337.8 276.5L338.7 279.8L335.8 278.0L332.9 279.8L333.8 276.5L331.1 274.3L334.5 274.2zM338.8 269.5L340.0 272.7L343.5 272.8L340.8 275.0L341.7 278.3L338.8 276.5L335.9 278.3L336.8 275.0L334.1 272.8L337.6 272.7zM338.2 268.6L339.4 271.8L342.8 272.0L340.2 274.2L341.1 277.5L338.2 275.6L335.3 277.5L336.2 274.2L333.5 272.0L336.9 271.8zM338.9 268.4L340.1 271.6L343.5 271.8L340.9 273.9L341.8 277.2L338.9 275.4L336.0 277.2L336.9 273.9L334.2 271.8L337.6 271.6zM341.4 269.7L342.6 272.9L346.1 273.1L343.4 275.3L344.3 278.6L341.4 276.7L338.5 278.6L339.4 275.3L336.7 273.1L340.2 272.9zM341.6 270.7L342.9 273.9L346.3 274.1L343.6 276.3L344.5 279.6L341.6 277.7L338.8 279.6L339.6 276.3L337.0 274.1L340.4 273.9zM340.9 266.9L342.1 270.1L345.6 270.3L342.9 272.4L343.8 275.7L340.9 273.9L338.0 275.7L338.9 272.4L336.2 270.3L339.7 270.1zM343.6 269.2L344.9 272.4L348.3 272.6L345.6 274.7L346.5 278.0L343.6 276.2L340.8 278.0L341.6 274.7L339.0 272.6L342.4 272.4zM344.0 271.1L345.3 274.3L348.7 274.5L346.0 276.6L346.9 279.9L344.0 278.1L341.2 279.9L342.0 276.6L339.4 274.5L342.8 274.3zM344.4 267.4L345.6 270.6L349.1 270.7L346.4 272.9L347.3 276.2L344.4 274.4L341.5 276.2L342.4 272.9L339.7 270.7L343.2 270.6zM347.1 271.3L348.3 274.5L351.7 274.7L349.1 276.9L350.0 280.2L347.1 278.3L344.2 280.2L345.1 276.9L342.4 274.7L345.9 274.5zM347.1 270.2L348.4 273.4L351.8 273.6L349.1 275.7L350.0 279.1L347.1 277.2L344.2 279.1L345.1 275.7L342.5 273.6L345.9 273.4zM346.4 271.5L347.7 274.7L351.1 274.9L348.4 277.1L349.3 280.4L346.4 278.5L343.5 280.4L344.4 277.1L341.8 274.9L345.2 274.7zM349.8 271.0L351.0 274.2L354.5 274.4L351.8 276.6L352.7 279.9L349.8 278.0L346.9 279.9L347.8 276.6L345.2 274.4L348.6 274.2zM349.9 269.4L351.2 272.6L354.6 272.8L351.9 275.0L352.8 278.3L349.9 276.4L347.1 278.3L347.9 275.0L345.3 272.8L348.7 272.6zM348.9 270.4L350.2 273.6L353.6 273.8L350.9 276.0L351.8 279.3L348.9 277.4L346.1 279.3L347.0 276.0L344.3 273.8L347.7 273.6zM352.6 269.0L353.8 272.2L357.2 272.4L354.6 274.6L355.4 277.9L352.6 276.0L349.7 277.9L350.6 274.6L347.9 272.4L351.3 272.2zM352.5 272.5L353.7 275.7L357.2 275.9L354.5 278.1L355.4 281.4L352.5 279.5L349.6 281.4L350.5 278.1L347.8 275.9L351.3 275.7zM351.9 271.0L353.1 274.2L356.5 274.3L353.9 276.5L354.8 279.8L351.9 278.0L349.0 279.8L349.9 276.5L347.2 274.3L350.7 274.2zM355.2 270.8L356.4 274.0L359.8 274.2L357.2 276.4L358.1 279.7L355.2 277.8L352.3 279.7L353.2 276.4L350.5 274.2L353.9 274.0zM354.6 269.8L355.8 273.0L359.3 273.2L356.6 275.4L357.5 278.7L354.6 276.8L351.7 278.7L352.6 275.4L350.0 273.2L353.4 273.0zM355.3 272.4L356.5 275.6L359.9 275.8L357.3 277.9L358.1 281.2L355.3 279.4L352.4 281.2L353.3 277.9L350.6 275.8L354.0 275.6zM357.7 269.8L358.9 273.0L362.3 273.2L359.7 275.4L360.6 278.7L357.7 276.8L354.8 278.7L355.7 275.4L353.0 273.2L356.4 273.0zM358.1 273.1L359.3 276.3L362.8 276.5L360.1 278.7L361.0 282.0L358.1 280.1L355.2 282.0L356.1 278.7L353.4 276.5L356.9 276.3zM357.4 272.2L358.6 275.4L362.1 275.6L359.4 277.7L360.3 281.1L357.4 279.2L354.5 281.1L355.4 277.7L352.7 275.6L356.2 275.4zM361.0 274.5L362.2 277.7L365.6 277.9L363.0 280.0L363.8 283.4L361.0 281.5L358.1 283.4L359.0 280.0L356.3 277.9L359.7 277.7zM360.5 272.5L361.7 275.7L365.2 275.9L362.5 278.1L363.4 281.4L360.5 279.5L357.6 281.4L358.5 278.1L355.8 275.9L359.3 275.7zM360.6 271.2L361.8 274.4L365.3 274.5L362.6 276.7L363.5 280.0L360.6 278.2L357.7 280.0L358.6 276.7L355.9 274.5L359.4 274.4zM362.9 271.9L364.1 275.1L367.5 275.3L364.9 277.5L365.8 280.8L362.9 278.9L360.0 280.8L360.9 277.5L358.2 275.3L361.6 275.1zM363.5 272.8L364.7 276.0L368.1 276.2L365.5 278.4L366.4 281.7L363.5 279.8L360.6 281.7L361.5 278.4L358.8 276.2L362.2 276.0zM363.3 273.0L364.6 276.2L368.0 276.4L365.3 278.6L366.2 281.9L363.3 280.0L360.4 281.9L361.3 278.6L358.7 276.4L362.1 276.2zM366.0 272.6L367.3 275.8L370.7 276.0L368.0 278.2L368.9 281.5L366.0 279.6L363.1 281.5L364.0 278.2L361.4 276.0L364.8 275.8zM365.5 276.7L366.7 279.9L370.1 280.1L367.5 282.2L368.3 285.6L365.5 283.7L362.6 285.6L363.5 282.2L360.8 280.1L364.2 279.9zM365.9 272.4L367.1 275.6L370.5 275.8L367.8 278.0L368.7 281.3L365.9 279.4L363.0 281.3L363.9 278.0L361.2 275.8L364.6 275.6zM368.9 276.5L370.2 279.7L373.6 279.9L370.9 282.1L371.8 285.4L368.9 283.5L366.0 285.4L366.9 282.1L364.3 279.9L367.7 279.7zM368.3 275.6L369.6 278.8L373.0 279.0L370.3 281.2L371.2 284.5L368.3 282.6L365.5 284.5L366.4 281.2L363.7 279.0L367.1 278.8zM368.6 275.2L369.8 278.4L373.2 278.6L370.6 280.8L371.5 284.1L368.6 282.2L365.7 284.1L366.6 280.8L363.9 278.6L367.3 278.4zM370.9 273.7L372.2 276.9L375.6 277.1L372.9 279.3L373.8 282.6L370.9 280.7L368.1 282.6L368.9 279.3L366.3 277.1L369.7 276.9zM372.1 277.7L373.3 280.9L376.8 281.1L374.1 283.3L375.0 286.6L372.1 284.7L369.2 286.6L370.1 283.3L367.4 281.1L370.9 280.9zM371.5 276.3L372.7 279.5L376.2 279.7L373.5 281.8L374.4 285.2L371.5 283.3L368.6 285.2L369.5 281.8L366.8 279.7L370.3 279.5zM374.0 278.2L375.2 281.4L378.7 281.5L376.0 283.7L376.9 287.0L374.0 285.2L371.1 287.0L372.0 283.7L369.3 281.5L372.8 281.4zM374.2 279.0L375.4 282.2L378.9 282.3L376.2 284.5L377.1 287.8L374.2 286.0L371.3 287.8L372.2 284.5L369.5 282.3L373.0 282.2zM374.6 278.3L375.8 281.5L379.3 281.7L376.6 283.9L377.5 287.2L374.6 285.3L371.7 287.2L372.6 283.9L369.9 281.7L373.4 281.5zM377.6 276.5L378.8 279.7L382.3 279.8L379.6 282.0L380.5 285.3L377.6 283.5L374.7 285.3L375.6 282.0L372.9 279.8L376.4 279.7zM376.5 276.2L377.7 279.4L381.1 279.6L378.5 281.8L379.4 285.1L376.5 283.2L373.6 285.1L374.5 281.8L371.8 279.6L375.3 279.4zM376.7 275.6L377.9 278.8L381.3 279.0L378.7 281.2L379.5 284.5L376.7 282.6L373.8 284.5L374.7 281.2L372.0 279.0L375.4 278.8zM379.3 278.8L380.5 282.0L383.9 282.1L381.3 284.3L382.1 287.6L379.3 285.8L376.4 287.6L377.3 284.3L374.6 282.1L378.0 282.0zM380.2 278.3L381.5 281.5L384.9 281.7L382.2 283.8L383.1 287.1L380.2 285.3L377.4 287.1L378.2 283.8L375.6 281.7L379.0 281.5zM380.3 280.4L381.6 283.6L385.0 283.8L382.3 286.0L383.2 289.3L380.3 287.4L377.5 289.3L378.3 286.0L375.7 283.8L379.1 283.6zM382.0 279.8L383.3 283.0L386.7 283.2L384.0 285.3L384.9 288.6L382.0 286.8L379.2 288.6L380.0 285.3L377.4 283.2L380.8 283.0zM382.4 277.5L383.7 280.7L387.1 280.9L384.4 283.0L385.3 286.3L382.4 284.5L379.6 286.3L380.4 283.0L377.8 280.9L381.2 280.7zM383.1 278.1L384.3 281.3L387.8 281.5L385.1 283.7L386.0 287.0L383.1 285.1L380.2 287.0L381.1 283.7L378.4 281.5L381.9 281.3zM385.4 280.8L386.6 284.0L390.1 284.2L387.4 286.4L388.3 289.7L385.4 287.8L382.5 289.7L383.4 286.4L380.7 284.2L384.2 284.0zM385.9 281.0L387.1 284.2L390.5 284.3L387.9 286.5L388.7 289.8L385.9 288.0L383.0 289.8L383.9 286.5L381.2 284.3L384.6 284.2zM385.2 279.9L386.4 283.1L389.8 283.3L387.2 285.4L388.1 288.8L385.2 286.9L382.3 288.8L383.2 285.4L380.5 283.3L384.0 283.1zM387.7 283.4L388.9 286.6L392.3 286.8L389.7 289.0L390.5 292.3L387.7 290.4L384.8 292.3L385.7 289.0L383.0 286.8L386.4 286.6zM388.7 279.9L389.9 283.1L393.3 283.3L390.7 285.4L391.5 288.7L388.7 286.9L385.8 288.7L386.7 285.4L384.0 283.3L387.4 283.1zM387.5 280.0L388.8 283.2L392.2 283.4L389.5 285.6L390.4 288.9L387.5 287.0L384.6 288.9L385.5 285.6L382.9 283.4L386.3 283.2zM390.7 285.1L391.9 288.3L395.3 288.5L392.7 290.6L393.5 293.9L390.7 292.1L387.8 293.9L388.7 290.6L386.0 288.5L389.4 288.3zM391.3 284.8L392.6 288.0L396.0 288.1L393.3 290.3L394.2 293.6L391.3 291.8L388.4 293.6L389.3 290.3L386.7 288.1L390.1 288.0zM390.3 284.5L391.5 287.7L395.0 287.9L392.3 290.1L393.2 293.4L390.3 291.5L387.4 293.4L388.3 290.1L385.6 287.9L389.1 287.7zM392.3 286.3L393.5 289.5L396.9 289.7L394.2 291.8L395.1 295.1L392.3 293.3L389.4 295.1L390.3 291.8L387.6 289.7L391.0 289.5zM392.6 281.0L393.8 284.2L397.2 284.3L394.6 286.5L395.5 289.8L392.6 288.0L389.7 289.8L390.6 286.5L387.9 284.3L391.3 284.2zM394.3 289.2L395.6 292.4L399.0 292.6L396.3 294.7L397.2 298.1L394.3 296.2L391.5 298.1L392.3 294.7L389.7 292.6L393.1 292.4zM395.3 288.5L396.5 291.7L399.9 291.9L397.3 294.0L398.2 297.4L395.3 295.5L392.4 297.4L393.3 294.0L390.6 291.9L394.1 291.7zM397.3 289.7L398.5 292.9L401.9 293.0L399.3 295.2L400.2 298.5L397.3 296.7L394.4 298.5L395.3 295.2L392.6 293.0L396.0 292.9zM397.8 285.3L399.1 288.5L402.5 288.7L399.8 290.8L400.7 294.1L397.8 292.3L394.9 294.1L395.8 290.8L393.2 288.7L396.6 288.5zM400.1 288.6L401.3 291.8L404.7 292.0L402.1 294.1L402.9 297.5L400.1 295.6L397.2 297.5L398.1 294.1L395.4 292.0L398.8 291.8zM399.8 290.6L401.1 293.8L404.5 294.0L401.8 296.2L402.7 299.5L399.8 297.6L396.9 299.5L397.8 296.2L395.2 294.0L398.6 293.8zM402.6 290.4L403.9 293.6L407.3 293.7L404.6 295.9L405.5 299.2L402.6 297.4L399.8 299.2L400.6 295.9L398.0 293.7L401.4 293.6zM402.6 294.3L403.8 297.5L407.3 297.7L404.6 299.9L405.5 303.2L402.6 301.3L399.7 303.2L400.6 299.9L397.9 297.7L401.4 297.5zM405.2 296.7L406.4 299.9L409.9 300.1L407.2 302.3L408.1 305.6L405.2 303.7L402.3 305.6L403.2 302.3L400.6 300.1L404.0 299.9zM405.4 290.6L406.7 293.8L410.1 294.0L407.4 296.2L408.3 299.5L405.4 297.6L402.6 299.5L403.4 296.2L400.8 294.0L404.2 293.8zM408.5 294.9L409.7 298.1L413.2 298.3L410.5 300.4L411.4 303.7L408.5 301.9L405.6 303.7L406.5 300.4L403.9 298.3L407.3 298.1zM411.3 305.5L412.5 308.7L415.9 308.8L413.3 311.0L414.2 314.3L411.3 312.5L408.4 314.3L409.3 311.0L406.6 308.8L410.0 308.7zM414.0 298.5L415.2 301.7L418.6 301.9L416.0 304.0L416.9 307.3L414.0 305.5L411.1 307.3L412.0 304.0L409.3 301.9L412.8 301.7zM416.2 301.2L417.4 304.4L420.9 304.6L418.2 306.8L419.1 310.1L416.2 308.2L413.3 310.1L414.2 306.8L411.6 304.6L415.0 304.4zM419.6 314.2L420.8 317.4L424.2 317.6L421.5 319.8L422.4 323.1L419.6 321.2L416.7 323.1L417.6 319.8L414.9 317.6L418.3 317.4zM422.0 312.7L423.2 315.9L426.6 316.1L423.9 318.3L424.8 321.6L422.0 319.7L419.1 321.6L420.0 318.3L417.3 316.1L420.7 315.9zM424.4 322.0L425.6 325.2L429.0 325.4L426.4 327.5L427.2 330.9L424.4 329.0L421.5 330.9L422.4 327.5L419.7 325.4L423.1 325.2zM427.3 323.9L428.5 327.1L431.9 327.3L429.3 329.4L430.2 332.8L427.3 330.9L424.4 332.8L425.3 329.4L422.6 327.3L426.1 327.1zM429.6 323.2L430.9 326.4L434.3 326.6L431.6 328.8L432.5 332.1L429.6 330.2L426.8 332.1L427.6 328.8L425.0 326.6L428.4 326.4zM432.3 335.1L433.5 338.3L437.0 338.5L434.3 340.7L435.2 344.0L432.3 342.1L429.4 344.0L430.3 340.7L427.6 338.5L431.1 338.3zM409.5 295.0L410.7 298.2L414.1 298.4L411.5 300.6L412.3 303.9L409.5 302.0L406.6 303.9L407.5 300.6L404.8 298.4L408.2 298.2zM412.6 298.8L413.8 302.0L417.3 302.1L414.6 304.3L415.5 307.6L412.6 305.8L409.7 307.6L410.6 304.3L407.9 302.1L411.4 302.0zM414.8 300.4L416.0 303.6L419.5 303.8L416.8 305.9L417.7 309.2L414.8 307.4L411.9 309.2L412.8 305.9L410.2 303.8L413.6 303.6zM417.4 312.6L418.6 315.8L422.1 316.0L419.4 318.1L420.3 321.4L417.4 319.6L414.5 321.4L415.4 318.1L412.7 316.0L416.2 315.8zM420.2 307.2L421.5 310.4L424.9 310.6L422.2 312.7L423.1 316.0L420.2 314.2L417.4 316.0L418.2 312.7L415.6 310.6L419.0 310.4zM423.2 313.2L424.4 316.4L427.8 316.6L425.2 318.8L426.1 322.1L423.2 320.2L420.3 322.1L421.2 318.8L418.5 316.6L422.0 316.4zM426.4 315.0L427.7 318.2L431.1 318.4L428.4 320.6L429.3 323.9L426.4 322.0L423.6 323.9L424.4 320.6L421.8 318.4L425.2 318.2zM429.3 318.7L430.5 321.9L433.9 322.1L431.3 324.3L432.2 327.6L429.3 325.7L426.4 327.6L427.3 324.3L424.6 322.1L428.1 321.9zM431.9 331.8L433.2 335.0L436.6 335.2L433.9 337.4L434.8 340.7L431.9 338.8L429.1 340.7L430.0 337.4L427.3 335.2L430.7 335.0zM418.6 307.1L419.8 310.3L423.3 310.5L420.6 312.6L421.5 316.0L418.6 314.1L415.7 316.0L416.6 312.6L413.9 310.5L417.4 310.3zM421.3 309.7L422.6 312.9L426.0 313.1L423.3 315.2L424.2 318.6L421.3 316.7L418.5 318.6L419.3 315.2L416.7 313.1L420.1 312.9zM422.5 312.3L423.7 315.5L427.2 315.7L424.5 317.8L425.4 321.2L422.5 319.3L419.6 321.2L420.5 317.8L417.8 315.7L421.3 315.5zM424.0 314.9L425.3 318.1L428.7 318.3L426.0 320.4L426.9 323.8L424.0 321.9L421.2 323.8L422.0 320.4L419.4 318.3L422.8 318.1zM425.5 317.5L426.8 320.7L430.2 320.9L427.5 323.0L428.4 326.4L425.5 324.5L422.6 326.4L423.5 323.0L420.9 320.9L424.3 320.7zM427.5 320.1L428.8 323.3L432.2 323.5L429.5 325.6L430.4 329.0L427.5 327.1L424.7 329.0L425.5 325.6L422.9 323.5L426.3 323.3zM430.7 322.7L431.9 325.9L435.3 326.1L432.7 328.2L433.5 331.6L430.7 329.7L427.8 331.6L428.7 328.2L426.0 326.1L429.4 325.9zM432.0 325.3L433.2 328.5L436.7 328.7L434.0 330.8L434.9 334.2L432.0 332.3L429.1 334.2L430.0 330.8L427.3 328.7L430.8 328.5zM433.1 327.9L434.4 331.1L437.8 331.3L435.1 333.4L436.0 336.8L433.1 334.9L430.2 336.8L431.1 333.4L428.5 331.3L431.9 331.1zM432.4 330.5L433.7 333.7L437.1 333.9L434.4 336.0L435.3 339.4L432.4 337.5L429.6 339.4L430.4 336.0L427.8 333.9L431.2 333.7zM434.2 333.1L435.4 336.3L438.9 336.5L436.2 338.6L437.1 342.0L434.2 340.1L431.3 342.0L432.2 338.6L429.5 336.5L433.0 336.3zM436.1 335.7L437.4 338.9L440.8 339.1L438.1 341.2L439.0 344.6L436.1 342.7L433.3 344.6L434.2 341.2L431.5 339.1L434.9 338.9zM434.6 338.3L435.9 341.5L439.3 341.7L436.6 343.8L437.5 347.2L434.6 345.3L431.8 347.2L432.6 343.8L430.0 341.7L433.4 341.5zM436.7 340.9L438.0 344.1L441.4 344.3L438.7 346.4L439.6 349.8L436.7 347.9L433.9 349.8L434.7 346.4L432.1 344.3L435.5 344.1zM436.2 343.5L437.4 346.7L440.9 346.9L438.2 349.0L439.1 352.4L436.2 350.5L433.3 352.4L434.2 349.0L431.5 346.9L435.0 346.7zM436.1 348.1L437.3 351.3L440.8 351.5L438.1 353.6L439.0 357.0L436.1 355.1L433.2 357.0L434.1 353.6L431.4 351.5L434.9 351.3zM431.0 356.8L432.2 360.0L435.7 360.2L433.0 362.3L433.9 365.7L431.0 363.8L428.1 365.7L429.0 362.3L426.3 360.2L429.8 360.0zM437.0 367.1L438.2 370.3L441.7 370.5L439.0 372.6L439.9 376.0L437.0 374.1L434.1 376.0L435.0 372.6L432.3 370.5L435.8 370.3zM438.5 375.1L439.7 378.3L443.2 378.5L440.5 380.6L441.4 384.0L438.5 382.1L435.6 384.0L436.5 380.6L433.8 378.5L437.3 378.3zM439.8 384.1L441.0 387.3L444.5 387.5L441.8 389.6L442.7 393.0L439.8 391.1L436.9 393.0L437.8 389.6L435.1 387.5L438.6 387.3zM441.2 392.9L442.4 396.1L445.9 396.3L443.2 398.4L444.1 401.8L441.2 399.9L438.3 401.8L439.2 398.4L436.5 396.3L440.0 396.1zM443.0 403.1L444.2 406.3L447.7 406.5L445.0 408.6L445.9 412.0L443.0 410.1L440.1 412.0L441.0 408.6L438.3 406.5L441.8 406.3zM446.3 417.5L447.5 420.7L451.0 420.9L448.3 423.0L449.2 426.4L446.3 424.5L443.4 426.4L444.3 423.0L441.6 420.9L445.1 420.7zM448.0 427.1L449.2 430.3L452.7 430.5L450.0 432.6L450.9 436.0L448.0 434.1L445.1 436.0L446.0 432.6L443.3 430.5L446.8 430.3zM451.3 439.1L452.5 442.3L456.0 442.5L453.3 444.6L454.2 448.0L451.3 446.1L448.4 448.0L449.3 444.6L446.6 442.5L450.1 442.3zM454.7 455.9L455.9 459.1L459.4 459.3L456.7 461.4L457.6 464.8L454.7 462.9L451.8 464.8L452.7 461.4L450.0 459.3L453.5 459.1zM461.2 460.1L462.4 463.3L465.9 463.5L463.2 465.6L464.1 469.0L461.2 467.1L458.3 469.0L459.2 465.6L456.5 463.5L460.0 463.3zM457.6 474.1L458.8 477.3L462.3 477.5L459.6 479.6L460.5 483.0L457.6 481.1L454.7 483.0L455.6 479.6L452.9 477.5L456.4 477.3zM463.4 492.8L464.6 496.0L468.1 496.2L465.4 498.3L466.3 501.7L463.4 499.8L460.5 501.7L461.4 498.3L458.7 496.2L462.2 496.0zM469.9 513.1L471.1 516.3L474.6 516.5L471.9 518.6L472.8 522.0L469.9 520.1L467.0 522.0L467.9 518.6L465.2 516.5L468.7 516.3z" stroke="#1e90ff" stroke-width="1.35" fill="none" stroke-linejoin="miter"/>
<path d="M164.7 159.0L176.3 161.2L182.8 164.3L192.9 167.5L198.7 170.8L202.3 178.8L206.6 188.2L214.6 198.3L219.6 202.6L226.9 210.6L232.6 217.8L237.7 222.9L241.3 225.0L248.0 227.6L256.5 234.3L264.0 237.7L274.2 238.6L283.5 241.0L292.8 243.6L302.0 246.0L311.3 247.8L320.6 250.4L330.7 252.5L339.4 254.5L350.4 256.1L358.0 257.8L365.5 263.7L373.0 268.8L383.2 273.9L390.8 278.0L401.0 283.0L406.0 289.0L413.6 297.5L418.7 303.4L426.3 312.6L433.0 325.0L440.0 345.0L447.0 366.0L454.2 393.5L457.8 403.6L459.3 411.6L462.9 422.4L464.3 430.4L468.0 441.2L469.4 449.0L472.8 459.4L475.0 467.3L477.8 479.0L480.0 487.6L482.9 497.7L485.0 506.4L488.0 515.8L490.0 525.0L493.7 533.9L499.5 541.8L506.7 549.0L514.7 553.4L524.0 557.7L532.0 562.0L540.0 565.7L551.0 571.4L559.5 575.7L567.1 579.0L576.4 583.2L584.0 588.3L592.4 594.2L598.6 600.5L606.0 605.5L614.6 610.6L623.9 614.8L632.3 618.2L641.6 621.6L650.8 625.0L658.4 630.8L665.2 637.6L673.6 643.5L681.2 647.7L689.6 652.8L698.0 658.7L706.5 663.7L715.0 668.8L723.1 673.8L739.7 684.4L756.3 694.3L774.2 703.0L786.8 708.3" stroke="#ff0000" stroke-width="1.7" fill="none" stroke-dasharray="11.3 8.1"/>
<path d="M159.6 115.0L172.0 138.8L180.6 143.0L182.0 146.0L187.8 146.0L193.6 160.0L200.8 173.0L205.2 180.2L211.0 185.3L216.7 189.6L222.5 196.1L234.1 207.7L238.4 208.4L244.2 211.3L250.0 216.0L254.0 217.5L258.2 221.7L274.2 221.7L284.3 221.7L294.5 222.5L304.6 229.3L308.8 229.3L318.0 230.1L345.3 230.1L351.2 235.9L358.8 237.6L374.0 247.7L380.7 253.6L403.5 269.6L410.2 274.7L417.8 285.7L422.9 297.5L427.1 307.6L436.4 332.9L438.3 340.0L447.7 366.0L449.9 374.7L459.3 400.0L461.4 409.4L470.8 434.7L473.0 443.4L479.5 460.0L482.2 468.8L485.0 477.5L489.4 490.5L495.9 502.0L500.2 509.3L505.3 518.0" stroke="#ffa200" stroke-width="1.7" fill="none" stroke-dasharray="27.8 8.4"/>
<path d="M144.2 502.7L145.5 553.5L148.6 605.5L152.0 640.0L155.5 662.0L158.5 667.0L161.6 668.4L164.0 666.0L167.2 662.0L170.0 657.5L176.0 647.5L182.0 637.3L188.0 627.0L194.0 616.5L200.0 606.0L206.0 595.5L212.0 585.1L218.0 574.7L224.0 564.5L230.0 554.5L236.0 544.6L242.0 535.1L248.0 525.8L254.0 516.8L260.0 508.1L266.0 499.8L272.0 491.9L278.0 484.5L284.0 477.4L290.0 470.8L296.0 464.7L302.0 459.1L308.0 454.0L314.0 449.3L320.0 445.2L326.0 441.6L332.0 438.6L338.0 436.0L344.0 434.0L350.0 432.4L356.0 431.4L362.0 430.9L368.0 430.9L371.0 431.2L386.3 436.4L399.3 445.0L410.1 458.0L420.0 477.5L426.5 493.4L434.5 515.0L441.7 532.4L450.4 545.4L457.6 555.5L466.3 562.0L476.9 570.6L493.7 580.7L520.7 594.2L544.3 607.7L578.0 628.0L605.3 641.0L635.7 659.5L659.3 674.7L681.2 686.5L701.4 697.5L750.0 723.0L781.0 741.2" stroke="#0000ff" stroke-width="1.7" fill="none" stroke-dasharray="11.4 4 2 4"/>
<path d="M153.0 117.0L155.8 164.7L162.3 161.4L166.6 169.0L169.9 170.0L176.4 199.4L180.7 199.4L184.0 217.8L186.7 220.8L188.9 216.5L193.2 233.8L197.6 238.0L204.0 242.5L212.8 264.0L223.6 282.8L230.0 280.7L236.6 290.0L252.7 282.9L256.0 295.9L262.0 297.5L267.0 295.0L272.0 297.5L277.0 295.5L282.0 298.0L288.0 296.0L294.0 299.5L300.0 298.0L306.0 301.0L312.0 298.0L317.0 301.5L330.0 301.5L345.3 300.8L350.4 304.2L360.5 305.9L370.6 309.3L379.0 315.2L390.8 321.9L397.6 328.7L404.3 329.5L411.1 339.6L420.2 353.0L428.9 364.6L434.7 381.9L437.6 409.4L446.3 429.6L449.9 460.0L453.3 476.0L461.9 500.6L466.3 522.3L469.2 548.3L471.3 565.7L481.9 577.3L487.0 578.2L495.4 585.0L502.2 589.0L508.9 587.5L518.2 603.5L528.3 596.7L535.9 604.3L544.3 608.5L551.0 616.0L555.3 612.0L560.4 620.4L568.0 619.5L573.0 622.0L580.6 621.2L586.5 629.6L596.0 640.0L605.3 633.4L616.3 646.9L620.5 646.9L627.2 653.6L635.7 656.0L641.6 657.0L647.5 662.0L656.7 662.0L662.6 669.6L667.7 667.0L672.8 677.2L677.8 672.2L684.6 680.6L691.3 684.0L700.6 685.6L708.2 685.6L714.9 695.8L724.6 696.4L729.9 704.3L733.9 705.7" stroke="#000" stroke-width="3.7" fill="none" stroke-linejoin="round"/>
<path d="M593.1 479.7L722.3 552.9" stroke="#000" stroke-width="1.6" fill="none" stroke-dasharray="20 2.7 1.3 2.7"/>
</g>
<path d="M141.6 741.2v-18.4M141.6 45.0v18.4M167.4 741.2v-9M167.4 45.0v9M193.2 741.2v-9M193.2 45.0v9M219.0 741.2v-9M219.0 45.0v9M244.8 741.2v-9M244.8 45.0v9M270.6 741.2v-18.4M270.6 45.0v18.4M296.4 741.2v-9M296.4 45.0v9M322.2 741.2v-9M322.2 45.0v9M348.0 741.2v-9M348.0 45.0v9M373.8 741.2v-9M373.8 45.0v9M399.6 741.2v-18.4M399.6 45.0v18.4M425.4 741.2v-9M425.4 45.0v9M451.2 741.2v-9M451.2 45.0v9M476.9 741.2v-9M476.9 45.0v9M502.7 741.2v-9M502.7 45.0v9M528.5 741.2v-18.4M528.5 45.0v18.4M554.3 741.2v-9M554.3 45.0v9M580.1 741.2v-9M580.1 45.0v9M605.9 741.2v-9M605.9 45.0v9M631.7 741.2v-9M631.7 45.0v9M657.5 741.2v-18.4M657.5 45.0v18.4M683.3 741.2v-9M683.3 45.0v9M709.1 741.2v-9M709.1 45.0v9M734.9 741.2v-9M734.9 45.0v9M760.7 741.2v-9M760.7 45.0v9M786.5 741.2v-18.4M786.5 45.0v18.4M115.5 741.2h18.4M786.5 741.2h-18.4M115.5 706.4h9M786.5 706.4h-9M115.5 671.6h9M786.5 671.6h-9M115.5 636.8h9M786.5 636.8h-9M115.5 602.0h9M786.5 602.0h-9M115.5 567.2h18.4M786.5 567.2h-18.4M115.5 532.3h9M786.5 532.3h-9M115.5 497.5h9M786.5 497.5h-9M115.5 462.7h9M786.5 462.7h-9M115.5 427.9h9M786.5 427.9h-9M115.5 393.1h18.4M786.5 393.1h-18.4M115.5 358.3h9M786.5 358.3h-9M115.5 323.5h9M786.5 323.5h-9M115.5 288.7h9M786.5 288.7h-9M115.5 253.9h9M786.5 253.9h-9M115.5 219.1h18.4M786.5 219.1h-18.4M115.5 184.2h9M786.5 184.2h-9M115.5 149.4h9M786.5 149.4h-9M115.5 114.6h9M786.5 114.6h-9M115.5 79.8h9M786.5 79.8h-9M115.5 45.0h18.4M786.5 45.0h-18.4" stroke="#000" stroke-width="1.6" fill="none"/>
<rect x="115.5" y="45.0" width="671.0" height="696.2" fill="none" stroke="#000" stroke-width="1.8"/>
<g transform="translate(142.4,774.9) scale(1.045,1)"><text x="0" y="0" font-size="29.3" letter-spacing="1.6" text-anchor="middle" font-family="Liberation Serif, serif">0</text></g>
<g transform="translate(271.4,774.9) scale(1.045,1)"><text x="0" y="0" font-size="29.3" letter-spacing="1.6" text-anchor="middle" font-family="Liberation Serif, serif">50</text></g>
<g transform="translate(400.4,774.9) scale(1.045,1)"><text x="0" y="0" font-size="29.3" letter-spacing="1.6" text-anchor="middle" font-family="Liberation Serif, serif">100</text></g>
<g transform="translate(529.3,774.9) scale(1.045,1)"><text x="0" y="0" font-size="29.3" letter-spacing="1.6" text-anchor="middle" font-family="Liberation Serif, serif">150</text></g>
<g transform="translate(658.3,774.9) scale(1.045,1)"><text x="0" y="0" font-size="29.3" letter-spacing="1.6" text-anchor="middle" font-family="Liberation Serif, serif">200</text></g>
<g transform="translate(787.3,774.9) scale(1.045,1)"><text x="0" y="0" font-size="29.3" letter-spacing="1.6" text-anchor="middle" font-family="Liberation Serif, serif">250</text></g>
<g transform="translate(101.8,54.6) scale(1.045,1)"><text x="0" y="0" font-size="29.3" letter-spacing="1.6" text-anchor="end" font-family="Liberation Serif, serif">43</text></g>
<g transform="translate(101.8,228.7) scale(1.045,1)"><text x="0" y="0" font-size="29.3" letter-spacing="1.6" text-anchor="end" font-family="Liberation Serif, serif">42.5</text></g>
<g transform="translate(101.8,402.7) scale(1.045,1)"><text x="0" y="0" font-size="29.3" letter-spacing="1.6" text-anchor="end" font-family="Liberation Serif, serif">42</text></g>
<g transform="translate(101.8,576.8) scale(1.045,1)"><text x="0" y="0" font-size="29.3" letter-spacing="1.6" text-anchor="end" font-family="Liberation Serif, serif">41.5</text></g>
<g transform="translate(101.8,750.8) scale(1.045,1)"><text x="0" y="0" font-size="29.3" letter-spacing="1.6" text-anchor="end" font-family="Liberation Serif, serif">41</text></g>
<g font-size="28.5" font-family="Liberation Serif, serif"><text x="306.8" y="807.3" textLength="49.5" lengthAdjust="spacing">Day</text><text x="371.0" y="807.3" textLength="75" lengthAdjust="spacing">Since</text><text x="461.0" y="807.3" textLength="134.5" lengthAdjust="spacing">Explosion</text></g>
<g transform="translate(22.8,609) rotate(-90)" font-size="28.5" font-family="Liberation Serif, serif"><text x="0" y="0" textLength="156" lengthAdjust="spacing">Bolometric</text><text x="170.2" y="0" textLength="156" lengthAdjust="spacing">Luminosity</text><text x="340.2" y="0" textLength="41" lengthAdjust="spacing">log</text><text x="393.6" y="0">L</text><text x="410" y="8.2" font-size="18.5">bol</text></g>
<rect x="520.4" y="90.4" width="204.6" height="261" fill="#fff" stroke="#000" stroke-width="1.4"/>
<path d="M556.1 108.0h6.7v6.7h-6.7z" stroke="#a020f0" stroke-width="1.5" fill="none"/>
<text x="586.4" y="118.3" font-size="20.8" fill="#a020f0" stroke="#a020f0" stroke-width="0.28" textLength="55.3" lengthAdjust="spacingAndGlyphs" font-family="Liberation Serif, serif">Nic18</text>
<path d="M559.5 130.4L560.7 133.6L564.2 133.8L561.5 135.9L562.4 139.3L559.5 137.4L556.6 139.3L557.5 135.9L554.8 133.8L558.3 133.6z" stroke="#1e90ff" stroke-width="1.5" fill="none"/>
<text x="586.4" y="142.3" font-size="20.8" fill="#1e90ff" stroke="#1e90ff" stroke-width="0.28" textLength="58.4" lengthAdjust="spacingAndGlyphs" font-family="Liberation Serif, serif">Ber09</text>
<path d="M556.0 156.6l7.0 7.0M556.0 163.6l7.0 -7.0" stroke="#006400" stroke-width="1.5" fill="none"/>
<text x="586.4" y="167.1" font-size="20.8" fill="#006400" stroke="#006400" stroke-width="0.28" textLength="65.6" lengthAdjust="spacingAndGlyphs" font-family="Liberation Serif, serif">Lym14</text>
<path d="M559.5 180.4L563.5 187.4L555.5 187.4z" stroke="#00ff00" stroke-width="1.5" fill="none"/>
<text x="586.4" y="190.9" font-size="20.8" fill="#00ff00" stroke="#00ff00" stroke-width="0.28" textLength="49.3" lengthAdjust="spacingAndGlyphs" font-family="Liberation Serif, serif">PP15</text>
<path d="M554.8 208.9a4.7 4.7 0 1 0 9.4 0a4.7 4.7 0 1 0 -9.4 0z" stroke="#00ffff" stroke-width="1.5" fill="none"/>
<text x="586.4" y="215.9" font-size="20.8" fill="#00ffff" stroke="#00ffff" stroke-width="0.28" textLength="61.1" lengthAdjust="spacingAndGlyphs" font-family="Liberation Serif, serif">Mag10</text>
<text x="659.8" y="215.9" font-size="20.8" fill="#00ffff" stroke="#00ffff" stroke-width="0.28" textLength="43.9" lengthAdjust="spacingAndGlyphs" font-family="Liberation Serif, serif">04et</text>
<path d="M559.5 228.3L564.3 231.8L562.4 237.3L556.6 237.3L554.7 231.8z" stroke="#ff00ff" stroke-width="1.5" fill="none"/>
<text x="586.4" y="240.3" font-size="20.8" fill="#ff00ff" stroke="#ff00ff" stroke-width="0.28" textLength="61.1" lengthAdjust="spacingAndGlyphs" font-family="Liberation Serif, serif">Mag10</text>
<text x="659.8" y="240.3" font-size="20.8" fill="#ff00ff" stroke="#ff00ff" stroke-width="0.28" textLength="54.8" lengthAdjust="spacingAndGlyphs" font-family="Liberation Serif, serif">99em</text>
<path d="M531 260.9H579.9" stroke="#000" stroke-width="4.2" stroke-dasharray="" fill="none"/>
<text x="586.4" y="264.5" font-size="20.8" fill="#000" stroke="#000" stroke-width="0.28" textLength="79.2" lengthAdjust="spacingAndGlyphs" font-family="Liberation Serif, serif">average</text>
<path d="M531 284.9H579.9" stroke="#ff0000" stroke-width="1.7" stroke-dasharray="11.3 8.1" fill="none"/>
<text x="586.4" y="288.1" font-size="20.8" fill="#ff0000" stroke="#ff0000" stroke-width="0.28" textLength="43.8" lengthAdjust="spacingAndGlyphs" font-family="Liberation Serif, serif">04et</text>
<text x="641.5" y="288.1" font-size="20.8" fill="#ff0000" stroke="#ff0000" stroke-width="0.28" textLength="61.2" lengthAdjust="spacingAndGlyphs" font-family="Liberation Serif, serif">Mag10</text>
<path d="M531 309.5H579.9" stroke="#ffa200" stroke-width="1.7" stroke-dasharray="27.8 8.4" fill="none"/>
<text x="586.4" y="312.9" font-size="20.8" fill="#ffa200" stroke="#ffa200" stroke-width="0.28" textLength="43.8" lengthAdjust="spacingAndGlyphs" font-family="Liberation Serif, serif">04et</text>
<text x="641.5" y="312.9" font-size="20.8" fill="#ffa200" stroke="#ffa200" stroke-width="0.28" textLength="57.7" lengthAdjust="spacingAndGlyphs" font-family="Liberation Serif, serif">Far18</text>
<path d="M531 333.5H579.9" stroke="#0000ff" stroke-width="1.7" stroke-dasharray="2 4 11.4 4" fill="none"/>
<text x="586.4" y="337.4" font-size="20.8" fill="#0000ff" stroke="#0000ff" stroke-width="0.28" textLength="34.9" lengthAdjust="spacingAndGlyphs" font-family="Liberation Serif, serif">87A</text>
<text x="633.1" y="337.4" font-size="20.8" fill="#0000ff" stroke="#0000ff" stroke-width="0.28" textLength="61.5" lengthAdjust="spacingAndGlyphs" font-family="Liberation Serif, serif">Sun90</text>
<text x="645" y="502.4" font-size="13" font-weight="bold" font-family="Liberation Sans, sans-serif">56</text>
<text x="661.5" y="508.2" font-size="22.8" font-family="Liberation Serif, serif">Co</text>
</svg>
</body></html>
